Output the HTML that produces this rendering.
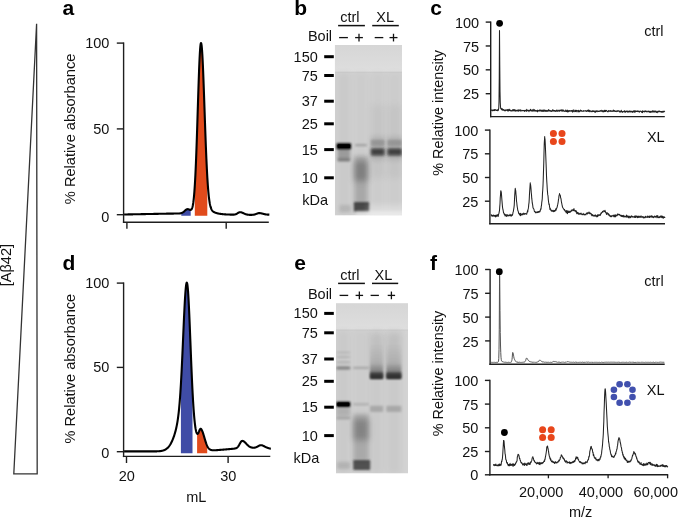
<!DOCTYPE html>
<html><head><meta charset="utf-8"><style>
html,body{margin:0;padding:0;background:#fff;}
body{width:678px;height:518px;overflow:hidden;}
svg{display:block;font-family:"Liberation Sans", sans-serif;will-change:transform;}
</style></head><body>
<svg width="678" height="518" viewBox="0 0 678 518">
<path d="M36.6 23.8 L37.2 473.8 L13.8 473.8 Z" fill="none" stroke="#333" stroke-width="1.3" stroke-linejoin="miter"/>
<text x="0" y="0" font-size="14.6" fill="#111" transform="translate(10.5 265.1) rotate(-90)" text-anchor="middle">[Aβ42]</text>
<text x="62.50" y="15.40" font-size="21" text-anchor="start" font-weight="bold" fill="#000" >a</text>
<text x="62.50" y="269.70" font-size="21" text-anchor="start" font-weight="bold" fill="#000" >d</text>
<text x="294.30" y="15.40" font-size="21" text-anchor="start" font-weight="bold" fill="#000" >b</text>
<text x="294.20" y="270.40" font-size="21" text-anchor="start" font-weight="bold" fill="#000" >e</text>
<text x="430.20" y="15.20" font-size="21" text-anchor="start" font-weight="bold" fill="#000" >c</text>
<text x="429.90" y="269.70" font-size="21" text-anchor="start" font-weight="bold" fill="#000" >f</text>
<line x1="123.60" y1="42.40" x2="123.60" y2="222.90" stroke="#1e1e1e" stroke-width="1.4" stroke-linecap="butt"/>
<line x1="116.80" y1="43.10" x2="123.60" y2="43.10" stroke="#1e1e1e" stroke-width="1.4" stroke-linecap="butt"/>
<line x1="116.80" y1="128.90" x2="123.60" y2="128.90" stroke="#1e1e1e" stroke-width="1.4" stroke-linecap="butt"/>
<line x1="116.80" y1="214.70" x2="123.60" y2="214.70" stroke="#1e1e1e" stroke-width="1.4" stroke-linecap="butt"/>
<line x1="122.90" y1="222.20" x2="268.80" y2="222.20" stroke="#1e1e1e" stroke-width="1.4" stroke-linecap="butt"/>
<line x1="126.90" y1="222.20" x2="126.90" y2="228.80" stroke="#1e1e1e" stroke-width="1.4" stroke-linecap="butt"/>
<line x1="226.20" y1="222.20" x2="226.20" y2="228.80" stroke="#1e1e1e" stroke-width="1.4" stroke-linecap="butt"/>
<path d="M181.30 215.80 L181.30 213.12 L181.55 213.04 L181.80 212.94 L182.05 212.83 L182.30 212.71 L182.55 212.57 L182.80 212.42 L183.05 212.26 L183.30 212.08 L183.55 211.89 L183.80 211.69 L184.05 211.47 L184.30 211.25 L184.55 211.03 L184.80 210.80 L185.05 210.58 L185.30 210.36 L185.55 210.14 L185.80 209.94 L186.05 209.76 L186.30 209.59 L186.55 209.45 L186.80 209.33 L187.05 209.24 L187.30 209.18 L187.55 209.14 L187.80 209.14 L188.05 209.16 L188.30 209.21 L188.55 209.28 L188.80 209.37 L189.05 209.47 L189.30 209.58 L189.55 209.68 L189.80 209.78 L190.05 209.86 L190.30 209.91 L190.55 209.92 L190.70 209.90 L190.70 215.80 Z" fill="#3f4ca6" stroke="none"/>
<path d="M194.80 215.80 L194.80 185.59 L195.05 181.36 L195.30 176.68 L195.55 171.54 L195.80 165.95 L196.05 159.91 L196.30 153.46 L196.55 146.63 L196.80 139.44 L197.05 131.96 L197.30 124.25 L197.55 116.39 L197.80 108.45 L198.05 100.53 L198.30 92.73 L198.55 85.14 L198.80 77.89 L199.05 71.07 L199.30 64.79 L199.55 59.14 L199.80 54.23 L200.05 50.13 L200.30 46.91 L200.55 44.63 L200.80 43.32 L201.05 43.02 L201.30 43.62 L201.55 45.06 L201.80 47.33 L202.05 50.39 L202.30 54.19 L202.55 58.67 L202.80 63.78 L203.05 69.44 L203.30 75.56 L203.55 82.08 L203.80 88.90 L204.05 95.93 L204.30 103.10 L204.55 110.33 L204.80 117.54 L205.05 124.67 L205.30 131.65 L205.55 138.42 L205.80 144.93 L206.05 151.16 L206.30 157.06 L206.55 162.61 L206.80 167.79 L207.05 172.61 L207.30 177.05 L207.30 177.05 L207.30 215.80 Z" fill="#e14b1c" stroke="none"/>
<path d="M124.10 214.50 L124.35 214.49 L124.60 214.49 L124.85 214.48 L125.10 214.48 L125.35 214.47 L125.60 214.47 L125.85 214.46 L126.10 214.46 L126.35 214.45 L126.60 214.45 L126.85 214.44 L127.10 214.44 L127.35 214.43 L127.60 214.43 L127.85 214.42 L128.10 214.42 L128.35 214.41 L128.60 214.41 L128.85 214.41 L129.10 214.40 L129.35 214.40 L129.60 214.39 L129.85 214.39 L130.10 214.38 L130.35 214.38 L130.60 214.37 L130.85 214.37 L131.10 214.36 L131.35 214.36 L131.60 214.35 L131.85 214.35 L132.10 214.34 L132.35 214.34 L132.60 214.33 L132.85 214.33 L133.10 214.32 L133.35 214.32 L133.60 214.31 L133.85 214.31 L134.10 214.30 L134.35 214.30 L134.60 214.29 L134.85 214.29 L135.10 214.28 L135.35 214.28 L135.60 214.27 L135.85 214.27 L136.10 214.26 L136.35 214.26 L136.60 214.25 L136.85 214.25 L137.10 214.24 L137.35 214.24 L137.60 214.23 L137.85 214.23 L138.10 214.22 L138.35 214.22 L138.60 214.21 L138.85 214.21 L139.10 214.20 L139.35 214.20 L139.60 214.19 L139.85 214.19 L140.10 214.19 L140.35 214.18 L140.60 214.18 L140.85 214.17 L141.10 214.17 L141.35 214.16 L141.60 214.16 L141.85 214.15 L142.10 214.15 L142.35 214.14 L142.60 214.14 L142.85 214.13 L143.10 214.13 L143.35 214.12 L143.60 214.12 L143.85 214.11 L144.10 214.11 L144.35 214.10 L144.60 214.10 L144.85 214.09 L145.10 214.09 L145.35 214.08 L145.60 214.08 L145.85 214.07 L146.10 214.07 L146.35 214.06 L146.60 214.06 L146.85 214.05 L147.10 214.05 L147.35 214.04 L147.60 214.04 L147.85 214.03 L148.10 214.03 L148.35 214.02 L148.60 214.02 L148.85 214.01 L149.10 214.01 L149.35 214.00 L149.60 214.00 L149.85 213.99 L150.10 213.99 L150.35 213.98 L150.60 213.98 L150.85 213.97 L151.10 213.97 L151.35 213.96 L151.60 213.96 L151.85 213.96 L152.10 213.95 L152.35 213.95 L152.60 213.94 L152.85 213.94 L153.10 213.93 L153.35 213.93 L153.60 213.92 L153.85 213.92 L154.10 213.91 L154.35 213.91 L154.60 213.90 L154.85 213.90 L155.10 213.89 L155.35 213.89 L155.60 213.88 L155.85 213.88 L156.10 213.87 L156.35 213.87 L156.60 213.86 L156.85 213.86 L157.10 213.85 L157.35 213.85 L157.60 213.84 L157.85 213.84 L158.10 213.83 L158.35 213.83 L158.60 213.82 L158.85 213.82 L159.10 213.81 L159.35 213.81 L159.60 213.80 L159.85 213.80 L160.10 213.79 L160.35 213.79 L160.60 213.78 L160.85 213.78 L161.10 213.77 L161.35 213.77 L161.60 213.76 L161.85 213.76 L162.10 213.75 L162.35 213.75 L162.60 213.74 L162.85 213.74 L163.10 213.73 L163.35 213.73 L163.60 213.73 L163.85 213.72 L164.10 213.72 L164.35 213.71 L164.60 213.71 L164.85 213.70 L165.10 213.70 L165.35 213.69 L165.60 213.69 L165.85 213.68 L166.10 213.68 L166.35 213.67 L166.60 213.67 L166.85 213.66 L167.10 213.66 L167.35 213.65 L167.60 213.65 L167.85 213.64 L168.10 213.64 L168.35 213.63 L168.60 213.63 L168.85 213.62 L169.10 213.62 L169.35 213.61 L169.60 213.61 L169.85 213.60 L170.10 213.60 L170.35 213.60 L170.60 213.60 L170.85 213.59 L171.10 213.59 L171.35 213.59 L171.60 213.59 L171.85 213.59 L172.10 213.59 L172.35 213.58 L172.60 213.58 L172.85 213.58 L173.10 213.58 L173.35 213.58 L173.60 213.58 L173.85 213.57 L174.10 213.57 L174.35 213.57 L174.60 213.57 L174.85 213.57 L175.10 213.57 L175.35 213.56 L175.60 213.56 L175.85 213.56 L176.10 213.56 L176.35 213.56 L176.60 213.55 L176.85 213.55 L177.10 213.55 L177.35 213.54 L177.60 213.54 L177.85 213.53 L178.10 213.53 L178.35 213.52 L178.60 213.51 L178.85 213.50 L179.10 213.48 L179.35 213.46 L179.60 213.44 L179.85 213.41 L180.10 213.38 L180.35 213.34 L180.60 213.30 L180.85 213.24 L181.10 213.18 L181.35 213.10 L181.60 213.02 L181.85 212.92 L182.10 212.81 L182.35 212.68 L182.60 212.54 L182.85 212.39 L183.10 212.22 L183.35 212.04 L183.60 211.85 L183.85 211.64 L184.10 211.43 L184.35 211.21 L184.60 210.98 L184.85 210.76 L185.10 210.53 L185.35 210.31 L185.60 210.10 L185.85 209.90 L186.10 209.72 L186.35 209.56 L186.60 209.42 L186.85 209.31 L187.10 209.23 L187.35 209.17 L187.60 209.14 L187.85 209.14 L188.10 209.17 L188.35 209.22 L188.60 209.30 L188.85 209.39 L189.10 209.49 L189.35 209.60 L189.60 209.71 L189.85 209.80 L190.10 209.87 L190.35 209.91 L190.60 209.91 L190.85 209.85 L191.10 209.72 L191.35 209.50 L191.60 209.18 L191.85 208.73 L192.10 208.14 L192.35 207.37 L192.60 206.42 L192.85 205.25 L193.10 203.83 L193.35 202.15 L193.60 200.16 L193.85 197.85 L194.10 195.18 L194.35 192.12 L194.60 188.67 L194.85 184.78 L195.10 180.46 L195.35 175.68 L195.60 170.45 L195.85 164.77 L196.10 158.66 L196.35 152.13 L196.60 145.22 L196.85 137.97 L197.10 130.44 L197.35 122.69 L197.60 114.80 L197.85 106.86 L198.10 98.95 L198.35 91.19 L198.60 83.66 L198.85 76.49 L199.10 69.77 L199.35 63.60 L199.60 58.10 L199.85 53.34 L200.10 49.41 L200.35 46.37 L200.60 44.29 L200.85 43.18 L201.10 43.07 L201.35 43.84 L201.60 45.45 L201.85 47.88 L202.10 51.09 L202.35 55.03 L202.60 59.65 L202.85 64.87 L203.10 70.63 L203.35 76.84 L203.60 83.42 L203.85 90.29 L204.10 97.36 L204.35 104.55 L204.60 111.78 L204.85 118.98 L205.10 126.08 L205.35 133.02 L205.60 139.74 L205.85 146.20 L206.10 152.36 L206.35 158.19 L206.60 163.67 L206.85 168.79 L207.10 173.53 L207.35 177.89 L207.60 181.89 L207.85 185.52 L208.10 188.81 L208.35 191.76 L208.60 194.40 L208.85 196.76 L209.10 198.84 L209.35 200.68 L209.60 202.29 L209.85 203.70 L210.10 204.93 L210.35 205.99 L210.60 206.92 L210.85 207.72 L211.10 208.41 L211.35 209.01 L211.60 209.52 L211.85 209.97 L212.10 210.35 L212.35 210.69 L212.60 210.98 L212.85 211.23 L213.10 211.45 L213.35 211.65 L213.60 211.83 L213.85 211.98 L214.10 212.13 L214.35 212.25 L214.60 212.37 L214.85 212.47 L215.10 212.58 L215.35 212.68 L215.60 212.78 L215.85 212.87 L216.10 212.95 L216.35 213.03 L216.60 213.11 L216.85 213.18 L217.10 213.25 L217.35 213.31 L217.60 213.37 L217.85 213.43 L218.10 213.49 L218.35 213.54 L218.60 213.59 L218.85 213.64 L219.10 213.68 L219.35 213.72 L219.60 213.77 L219.85 213.81 L220.10 213.84 L220.35 213.88 L220.60 213.91 L220.85 213.95 L221.10 213.98 L221.35 214.01 L221.60 214.04 L221.85 214.07 L222.10 214.10 L222.35 214.13 L222.60 214.15 L222.85 214.18 L223.10 214.20 L223.35 214.23 L223.60 214.25 L223.85 214.28 L224.10 214.30 L224.35 214.32 L224.60 214.35 L224.85 214.37 L225.10 214.39 L225.35 214.40 L225.60 214.41 L225.85 214.42 L226.10 214.43 L226.35 214.44 L226.60 214.45 L226.85 214.46 L227.10 214.47 L227.35 214.48 L227.60 214.49 L227.85 214.50 L228.10 214.51 L228.35 214.52 L228.60 214.53 L228.85 214.54 L229.10 214.55 L229.35 214.56 L229.60 214.57 L229.85 214.58 L230.10 214.59 L230.35 214.60 L230.60 214.61 L230.85 214.62 L231.10 214.63 L231.35 214.63 L231.60 214.64 L231.85 214.65 L232.10 214.66 L232.35 214.66 L232.60 214.67 L232.85 214.67 L233.10 214.66 L233.35 214.65 L233.60 214.64 L233.85 214.62 L234.10 214.60 L234.35 214.57 L234.60 214.53 L234.85 214.48 L235.10 214.43 L235.35 214.36 L235.60 214.28 L235.85 214.19 L236.10 214.09 L236.35 213.97 L236.60 213.84 L236.85 213.71 L237.10 213.56 L237.35 213.40 L237.60 213.24 L237.85 213.08 L238.10 212.92 L238.35 212.77 L238.60 212.63 L238.85 212.50 L239.10 212.39 L239.35 212.30 L239.60 212.23 L239.85 212.19 L240.10 212.18 L240.35 212.19 L240.60 212.22 L240.85 212.25 L241.10 212.31 L241.35 212.37 L241.60 212.44 L241.85 212.53 L242.10 212.62 L242.35 212.72 L242.60 212.83 L242.85 212.94 L243.10 213.06 L243.35 213.18 L243.60 213.29 L243.85 213.41 L244.10 213.53 L244.35 213.64 L244.60 213.75 L244.85 213.86 L245.10 213.96 L245.35 214.06 L245.60 214.15 L245.85 214.23 L246.10 214.31 L246.35 214.38 L246.60 214.44 L246.85 214.50 L247.10 214.55 L247.35 214.60 L247.60 214.64 L247.85 214.68 L248.10 214.71 L248.35 214.74 L248.60 214.77 L248.85 214.79 L249.10 214.81 L249.35 214.83 L249.60 214.84 L249.85 214.85 L250.10 214.86 L250.35 214.86 L250.60 214.86 L250.85 214.86 L251.10 214.86 L251.35 214.86 L251.60 214.85 L251.85 214.84 L252.10 214.83 L252.35 214.82 L252.60 214.80 L252.85 214.78 L253.10 214.76 L253.35 214.73 L253.60 214.69 L253.85 214.65 L254.10 214.61 L254.35 214.55 L254.60 214.49 L254.85 214.43 L255.10 214.35 L255.35 214.27 L255.60 214.19 L255.85 214.10 L256.10 214.00 L256.35 213.90 L256.60 213.80 L256.85 213.70 L257.10 213.60 L257.35 213.50 L257.60 213.41 L257.85 213.33 L258.10 213.26 L258.35 213.20 L258.60 213.15 L258.85 213.12 L259.10 213.10 L259.35 213.10 L259.60 213.11 L259.85 213.12 L260.10 213.14 L260.35 213.17 L260.60 213.21 L260.85 213.25 L261.10 213.30 L261.35 213.35 L261.60 213.41 L261.85 213.48 L262.10 213.54 L262.35 213.61 L262.60 213.68 L262.85 213.74 L263.10 213.81 L263.35 213.88 L263.60 213.95 L263.85 214.01 L264.10 214.07 L264.35 214.13 L264.60 214.19 L264.85 214.24 L265.10 214.29 L265.35 214.34 L265.60 214.38 L265.85 214.42 L266.10 214.46 L266.35 214.49 L266.60 214.51 L266.85 214.54 L267.10 214.56 L267.35 214.58 L267.60 214.60 L267.85 214.61 L268.10 214.62 L268.35 214.63 L268.60 214.64 L268.85 214.65 L269.10 214.66 L269.35 214.67" fill="none" stroke="#000" stroke-width="2.1" stroke-linejoin="round" />
<line x1="123.60" y1="282.40" x2="123.60" y2="457.10" stroke="#1e1e1e" stroke-width="1.4" stroke-linecap="butt"/>
<line x1="116.80" y1="283.10" x2="123.60" y2="283.10" stroke="#1e1e1e" stroke-width="1.4" stroke-linecap="butt"/>
<line x1="116.80" y1="367.40" x2="123.60" y2="367.40" stroke="#1e1e1e" stroke-width="1.4" stroke-linecap="butt"/>
<line x1="116.80" y1="451.70" x2="123.60" y2="451.70" stroke="#1e1e1e" stroke-width="1.4" stroke-linecap="butt"/>
<line x1="122.90" y1="456.40" x2="270.30" y2="456.40" stroke="#1e1e1e" stroke-width="1.4" stroke-linecap="butt"/>
<line x1="126.50" y1="456.40" x2="126.50" y2="463.00" stroke="#1e1e1e" stroke-width="1.4" stroke-linecap="butt"/>
<line x1="228.10" y1="456.40" x2="228.10" y2="463.00" stroke="#1e1e1e" stroke-width="1.4" stroke-linecap="butt"/>
<path d="M180.90 453.20 L180.90 384.17 L181.15 379.75 L181.40 375.09 L181.65 370.20 L181.90 365.08 L182.15 359.78 L182.40 354.30 L182.65 348.70 L182.90 343.00 L183.15 337.25 L183.40 331.51 L183.65 325.82 L183.90 320.24 L184.15 314.84 L184.40 309.67 L184.65 304.79 L184.90 300.27 L185.15 296.16 L185.40 292.51 L185.65 289.38 L185.90 286.81 L186.15 284.83 L186.40 283.46 L186.65 282.74 L186.90 282.68 L187.15 283.33 L187.40 284.70 L187.65 286.77 L187.90 289.51 L188.15 292.87 L188.40 296.82 L188.65 301.30 L188.90 306.25 L189.15 311.60 L189.40 317.29 L189.65 323.24 L189.90 329.40 L190.15 335.68 L190.40 342.04 L190.65 348.40 L190.90 354.70 L191.15 360.90 L191.40 366.95 L191.65 372.81 L191.90 378.44 L192.15 383.82 L192.40 388.93 L192.50 390.90 L192.50 453.20 Z" fill="#3f4ca6" stroke="none"/>
<path d="M197.10 453.20 L197.10 433.71 L197.35 433.86 L197.60 433.84 L197.85 433.67 L198.10 433.37 L198.35 432.95 L198.60 432.43 L198.85 431.86 L199.10 431.25 L199.35 430.63 L199.60 430.06 L199.85 429.54 L200.10 429.13 L200.35 428.84 L200.60 428.71 L200.85 428.74 L201.10 428.96 L201.35 429.30 L201.60 429.71 L201.85 430.18 L202.10 430.72 L202.35 431.31 L202.60 431.96 L202.85 432.66 L203.10 433.40 L203.35 434.18 L203.60 434.98 L203.85 435.81 L204.10 436.66 L204.35 437.52 L204.60 438.37 L204.85 439.22 L205.10 440.05 L205.35 440.87 L205.60 441.66 L205.85 442.42 L206.10 443.14 L206.35 443.84 L206.60 444.49 L206.85 445.10 L207.10 445.67 L207.20 445.89 L207.20 453.20 Z" fill="#e14b1c" stroke="none"/>
<path d="M124.10 451.40 L124.35 451.40 L124.60 451.40 L124.85 451.40 L125.10 451.40 L125.35 451.40 L125.60 451.40 L125.85 451.40 L126.10 451.40 L126.35 451.40 L126.60 451.40 L126.85 451.40 L127.10 451.40 L127.35 451.40 L127.60 451.40 L127.85 451.40 L128.10 451.40 L128.35 451.40 L128.60 451.40 L128.85 451.40 L129.10 451.40 L129.35 451.40 L129.60 451.40 L129.85 451.40 L130.10 451.40 L130.35 451.40 L130.60 451.40 L130.85 451.40 L131.10 451.40 L131.35 451.40 L131.60 451.40 L131.85 451.40 L132.10 451.40 L132.35 451.40 L132.60 451.40 L132.85 451.40 L133.10 451.40 L133.35 451.40 L133.60 451.40 L133.85 451.40 L134.10 451.40 L134.35 451.40 L134.60 451.40 L134.85 451.40 L135.10 451.40 L135.35 451.40 L135.60 451.40 L135.85 451.40 L136.10 451.40 L136.35 451.40 L136.60 451.40 L136.85 451.40 L137.10 451.40 L137.35 451.40 L137.60 451.40 L137.85 451.40 L138.10 451.40 L138.35 451.40 L138.60 451.40 L138.85 451.40 L139.10 451.40 L139.35 451.40 L139.60 451.40 L139.85 451.40 L140.10 451.40 L140.35 451.40 L140.60 451.40 L140.85 451.40 L141.10 451.40 L141.35 451.40 L141.60 451.40 L141.85 451.40 L142.10 451.40 L142.35 451.40 L142.60 451.40 L142.85 451.40 L143.10 451.40 L143.35 451.40 L143.60 451.40 L143.85 451.40 L144.10 451.40 L144.35 451.40 L144.60 451.40 L144.85 451.40 L145.10 451.40 L145.35 451.40 L145.60 451.40 L145.85 451.40 L146.10 451.40 L146.35 451.40 L146.60 451.40 L146.85 451.40 L147.10 451.40 L147.35 451.40 L147.60 451.40 L147.85 451.40 L148.10 451.40 L148.35 451.40 L148.60 451.40 L148.85 451.40 L149.10 451.40 L149.35 451.40 L149.60 451.40 L149.85 451.40 L150.10 451.40 L150.35 451.40 L150.60 451.40 L150.85 451.40 L151.10 451.40 L151.35 451.39 L151.60 451.39 L151.85 451.39 L152.10 451.39 L152.35 451.39 L152.60 451.39 L152.85 451.39 L153.10 451.39 L153.35 451.39 L153.60 451.38 L153.85 451.38 L154.10 451.38 L154.35 451.38 L154.60 451.37 L154.85 451.37 L155.10 451.37 L155.35 451.36 L155.60 451.36 L155.85 451.35 L156.10 451.35 L156.35 451.34 L156.60 451.33 L156.85 451.33 L157.10 451.32 L157.35 451.31 L157.60 451.30 L157.85 451.29 L158.10 451.28 L158.35 451.26 L158.60 451.25 L158.85 451.23 L159.10 451.21 L159.35 451.19 L159.60 451.17 L159.85 451.15 L160.10 451.12 L160.35 451.09 L160.60 451.05 L160.85 451.02 L161.10 450.97 L161.35 450.93 L161.60 450.88 L161.85 450.83 L162.10 450.78 L162.35 450.72 L162.60 450.66 L162.85 450.59 L163.10 450.51 L163.35 450.44 L163.60 450.35 L163.85 450.26 L164.10 450.16 L164.35 450.06 L164.60 449.95 L164.85 449.83 L165.10 449.70 L165.35 449.57 L165.60 449.42 L165.85 449.27 L166.10 449.11 L166.35 448.93 L166.60 448.75 L166.85 448.55 L167.10 448.35 L167.35 448.12 L167.60 447.89 L167.85 447.65 L168.10 447.39 L168.35 447.11 L168.60 446.82 L168.85 446.52 L169.10 446.20 L169.35 445.86 L169.60 445.51 L169.85 445.14 L170.10 444.75 L170.35 444.34 L170.60 443.92 L170.85 443.48 L171.10 443.01 L171.35 442.53 L171.60 442.03 L171.85 441.51 L172.10 440.96 L172.35 440.40 L172.60 439.81 L172.85 439.20 L173.10 438.57 L173.35 437.91 L173.60 437.23 L173.85 436.53 L174.10 435.79 L174.35 435.03 L174.60 434.24 L174.85 433.41 L175.10 432.55 L175.35 431.65 L175.60 430.70 L175.85 429.71 L176.10 428.66 L176.35 427.56 L176.60 426.38 L176.85 425.13 L177.10 423.79 L177.35 422.36 L177.60 420.82 L177.85 419.16 L178.10 417.37 L178.35 415.43 L178.60 413.34 L178.85 411.06 L179.10 408.60 L179.35 405.94 L179.60 403.05 L179.85 399.94 L180.10 396.59 L180.35 392.99 L180.60 389.13 L180.85 385.02 L181.10 380.66 L181.35 376.04 L181.60 371.19 L181.85 366.12 L182.10 360.85 L182.35 355.41 L182.60 349.83 L182.85 344.14 L183.10 338.40 L183.35 332.65 L183.60 326.95 L183.85 321.35 L184.10 315.91 L184.35 310.68 L184.60 305.74 L184.85 301.15 L185.10 296.95 L185.35 293.20 L185.60 289.97 L185.85 287.28 L186.10 285.17 L186.35 283.69 L186.60 282.84 L186.85 282.64 L187.10 283.14 L187.35 284.37 L187.60 286.30 L187.85 288.91 L188.10 292.15 L188.35 295.99 L188.60 300.36 L188.85 305.22 L189.10 310.50 L189.35 316.12 L189.60 322.03 L189.85 328.15 L190.10 334.42 L190.35 340.77 L190.60 347.13 L190.85 353.45 L191.10 359.67 L191.35 365.75 L191.60 371.65 L191.85 377.34 L192.10 382.77 L192.35 387.93 L192.60 392.81 L192.85 397.40 L193.10 401.67 L193.35 405.65 L193.60 409.32 L193.85 412.70 L194.10 415.79 L194.35 418.59 L194.60 421.13 L194.85 423.41 L195.10 425.44 L195.35 427.23 L195.60 428.78 L195.85 430.12 L196.10 431.24 L196.35 432.15 L196.60 432.86 L196.85 433.38 L197.10 433.71 L197.35 433.86 L197.60 433.84 L197.85 433.67 L198.10 433.37 L198.35 432.95 L198.60 432.43 L198.85 431.86 L199.10 431.25 L199.35 430.63 L199.60 430.06 L199.85 429.54 L200.10 429.13 L200.35 428.84 L200.60 428.71 L200.85 428.74 L201.10 428.96 L201.35 429.30 L201.60 429.71 L201.85 430.18 L202.10 430.72 L202.35 431.31 L202.60 431.96 L202.85 432.66 L203.10 433.40 L203.35 434.18 L203.60 434.98 L203.85 435.81 L204.10 436.66 L204.35 437.52 L204.60 438.37 L204.85 439.22 L205.10 440.05 L205.35 440.87 L205.60 441.66 L205.85 442.42 L206.10 443.14 L206.35 443.84 L206.60 444.49 L206.85 445.10 L207.10 445.67 L207.35 446.20 L207.60 446.69 L207.85 447.13 L208.10 447.54 L208.35 447.90 L208.60 448.23 L208.85 448.52 L209.10 448.78 L209.35 449.02 L209.60 449.22 L209.85 449.39 L210.10 449.55 L210.35 449.68 L210.60 449.79 L210.85 449.89 L211.10 449.97 L211.35 450.03 L211.60 450.09 L211.85 450.14 L212.10 450.17 L212.35 450.20 L212.60 450.23 L212.85 450.25 L213.10 450.26 L213.35 450.27 L213.60 450.28 L213.85 450.28 L214.10 450.28 L214.35 450.28 L214.60 450.28 L214.85 450.28 L215.10 450.27 L215.35 450.26 L215.60 450.24 L215.85 450.22 L216.10 450.20 L216.35 450.18 L216.60 450.16 L216.85 450.14 L217.10 450.12 L217.35 450.10 L217.60 450.08 L217.85 450.06 L218.10 450.04 L218.35 450.02 L218.60 450.00 L218.85 449.98 L219.10 449.96 L219.35 449.94 L219.60 449.92 L219.85 449.90 L220.10 449.88 L220.35 449.86 L220.60 449.84 L220.85 449.82 L221.10 449.80 L221.35 449.78 L221.60 449.76 L221.85 449.74 L222.10 449.72 L222.35 449.70 L222.60 449.68 L222.85 449.66 L223.10 449.64 L223.35 449.62 L223.60 449.60 L223.85 449.58 L224.10 449.56 L224.35 449.53 L224.60 449.51 L224.85 449.49 L225.10 449.47 L225.35 449.45 L225.60 449.43 L225.85 449.41 L226.10 449.39 L226.35 449.37 L226.60 449.35 L226.85 449.32 L227.10 449.30 L227.35 449.28 L227.60 449.26 L227.85 449.24 L228.10 449.21 L228.35 449.19 L228.60 449.17 L228.85 449.15 L229.10 449.12 L229.35 449.10 L229.60 449.08 L229.85 449.06 L230.10 449.04 L230.35 449.01 L230.60 448.99 L230.85 448.97 L231.10 448.95 L231.35 448.92 L231.60 448.90 L231.85 448.88 L232.10 448.86 L232.35 448.83 L232.60 448.81 L232.85 448.78 L233.10 448.76 L233.35 448.73 L233.60 448.70 L233.85 448.67 L234.10 448.64 L234.35 448.60 L234.60 448.56 L234.85 448.52 L235.10 448.46 L235.35 448.41 L235.60 448.35 L235.85 448.27 L236.10 448.18 L236.35 448.07 L236.60 447.93 L236.85 447.78 L237.10 447.59 L237.35 447.38 L237.60 447.13 L237.85 446.86 L238.10 446.55 L238.35 446.21 L238.60 445.83 L238.85 445.43 L239.10 445.01 L239.35 444.56 L239.60 444.11 L239.85 443.65 L240.10 443.20 L240.35 442.76 L240.60 442.35 L240.85 441.97 L241.10 441.64 L241.35 441.36 L241.60 441.15 L241.85 441.00 L242.10 440.92 L242.35 440.91 L242.60 440.93 L242.85 440.98 L243.10 441.06 L243.35 441.17 L243.60 441.30 L243.85 441.45 L244.10 441.63 L244.35 441.82 L244.60 442.04 L244.85 442.26 L245.10 442.51 L245.35 442.76 L245.60 443.02 L245.85 443.29 L246.10 443.56 L246.35 443.83 L246.60 444.10 L246.85 444.36 L247.10 444.62 L247.35 444.88 L247.60 445.12 L247.85 445.36 L248.10 445.58 L248.35 445.80 L248.60 446.00 L248.85 446.19 L249.10 446.36 L249.35 446.53 L249.60 446.68 L249.85 446.82 L250.10 446.94 L250.35 447.06 L250.60 447.17 L250.85 447.27 L251.10 447.35 L251.35 447.43 L251.60 447.49 L251.85 447.55 L252.10 447.60 L252.35 447.64 L252.60 447.67 L252.85 447.69 L253.10 447.71 L253.35 447.72 L253.60 447.72 L253.85 447.71 L254.10 447.69 L254.35 447.67 L254.60 447.64 L254.85 447.60 L255.10 447.55 L255.35 447.49 L255.60 447.42 L255.85 447.34 L256.10 447.25 L256.35 447.14 L256.60 447.03 L256.85 446.92 L257.10 446.79 L257.35 446.65 L257.60 446.52 L257.85 446.37 L258.10 446.23 L258.35 446.09 L258.60 445.95 L258.85 445.81 L259.10 445.68 L259.35 445.57 L259.60 445.47 L259.85 445.38 L260.10 445.31 L260.35 445.26 L260.60 445.23 L260.85 445.22 L261.10 445.22 L261.35 445.24 L261.60 445.26 L261.85 445.29 L262.10 445.35 L262.35 445.43 L262.60 445.52 L262.85 445.62 L263.10 445.73 L263.35 445.84 L263.60 445.95 L263.85 446.07 L264.10 446.20 L264.35 446.32 L264.60 446.45 L264.85 446.58 L265.10 446.71 L265.35 446.83 L265.60 446.96 L265.85 447.08 L266.10 447.20 L266.35 447.32 L266.60 447.43 L266.85 447.54 L267.10 447.65 L267.35 447.75 L267.60 447.85 L267.85 447.94 L268.10 448.03 L268.35 448.11 L268.60 448.19 L268.85 448.26 L269.10 448.33 L269.35 448.40 L269.60 448.46 L269.85 448.52 L270.10 448.58 L270.35 448.63 L270.60 448.67 L270.85 448.69" fill="none" stroke="#000" stroke-width="2.1" stroke-linejoin="round" />
<text x="109.40" y="48.30" font-size="14.5" text-anchor="end" font-weight="normal" fill="#111" >100</text>
<text x="109.40" y="134.00" font-size="14.5" text-anchor="end" font-weight="normal" fill="#111" >50</text>
<text x="109.40" y="221.80" font-size="14.5" text-anchor="end" font-weight="normal" fill="#111" >0</text>
<text x="109.40" y="288.20" font-size="14.5" text-anchor="end" font-weight="normal" fill="#111" >100</text>
<text x="109.40" y="372.30" font-size="14.5" text-anchor="end" font-weight="normal" fill="#111" >50</text>
<text x="109.40" y="457.60" font-size="14.5" text-anchor="end" font-weight="normal" fill="#111" >0</text>
<text x="126.70" y="481.00" font-size="14.5" text-anchor="middle" font-weight="normal" fill="#111" >20</text>
<text x="228.20" y="480.50" font-size="14.5" text-anchor="middle" font-weight="normal" fill="#111" >30</text>
<text x="196.30" y="501.90" font-size="14.5" text-anchor="middle" font-weight="normal" fill="#111" >mL</text>
<text x="0" y="0" font-size="14.65" fill="#111" text-anchor="middle" transform="translate(75.4 128.9) rotate(-90)">% Relative absorbance</text>
<text x="0" y="0" font-size="14.55" fill="#111" text-anchor="middle" transform="translate(75.2 368.6) rotate(-90)">% Relative absorbance</text>
<defs><clipPath id="cpg45"><rect x="334.8" y="45.0" width="67.19999999999999" height="170.6"/></clipPath><filter id="fg45_0_6" x="-60%" y="-60%" width="220%" height="220%"><feGaussianBlur stdDeviation="0.6"/></filter><filter id="fg45_0_9" x="-60%" y="-60%" width="220%" height="220%"><feGaussianBlur stdDeviation="0.9"/></filter><filter id="fg45_1_2" x="-60%" y="-60%" width="220%" height="220%"><feGaussianBlur stdDeviation="1.2"/></filter><filter id="fg45_1_6" x="-60%" y="-60%" width="220%" height="220%"><feGaussianBlur stdDeviation="1.6"/></filter><filter id="fg45_2_2" x="-60%" y="-60%" width="220%" height="220%"><feGaussianBlur stdDeviation="2.2"/></filter><filter id="fg45_3_0" x="-60%" y="-60%" width="220%" height="220%"><feGaussianBlur stdDeviation="3.0"/></filter><filter id="fg45_4_0" x="-60%" y="-60%" width="220%" height="220%"><feGaussianBlur stdDeviation="4.0"/></filter><linearGradient id="ltg45" x1="0" y1="0" x2="0" y2="1"><stop offset="0" stop-color="#d6d6d6"/><stop offset="1" stop-color="#dedede"/></linearGradient><linearGradient id="grg45" x1="0" y1="0" x2="0" y2="1"><stop offset="0" stop-color="#000" stop-opacity="0"/><stop offset="0.55" stop-color="#000" stop-opacity="0.12"/><stop offset="0.8" stop-color="#000" stop-opacity="0.45"/><stop offset="1" stop-color="#000" stop-opacity="1"/></linearGradient></defs>
<g clip-path="url(#cpg45)">
<rect x="334.8" y="45.0" width="67.19999999999999" height="170.6" fill="#d3d3d3"/>
<rect x="334.8" y="45.0" width="67.19999999999999" height="27.0" fill="url(#ltg45)"/>
<rect x="334.8" y="71.6" width="67.19999999999999" height="0.9" fill="#c4c4c4" opacity="0.6"/>
<rect x="336.6" y="72" width="14.5" height="144" rx="1" fill="#000" opacity="0.04" filter="url(#fg45_3_0)"/>
<rect x="354.0" y="72" width="14.0" height="144" rx="1" fill="#000" opacity="0.03" filter="url(#fg45_3_0)"/>
<rect x="370.8" y="72" width="13.899999999999977" height="144" rx="1" fill="#000" opacity="0.03" filter="url(#fg45_3_0)"/>
<rect x="387.3" y="72" width="14.699999999999989" height="144" rx="1" fill="#000" opacity="0.03" filter="url(#fg45_3_0)"/>
<rect x="337.6" y="148" width="12.5" height="12" rx="1" fill="#444" opacity="0.35" filter="url(#fg45_1_6)"/>
<rect x="337.6" y="158.3" width="12.5" height="3.299999999999983" rx="1" fill="#444" opacity="0.45" filter="url(#fg45_0_9)"/>
<rect x="336.6" y="143.3" width="14.5" height="6.0" rx="1" fill="#000" opacity="1.0" filter="url(#fg45_0_9)"/>
<rect x="337.6" y="144.2" width="12.5" height="3.8000000000000114" rx="1" fill="#000" opacity="1.0" filter="url(#fg45_0_6)"/>
<rect x="339.6" y="205" width="11.5" height="7" rx="1" fill="#888" opacity="0.3" filter="url(#fg45_1_6)"/>
<rect x="355.0" y="144.0" width="12.0" height="2.1999999999999886" rx="1" fill="#555" opacity="0.35" filter="url(#fg45_0_9)"/>
<rect x="354.3" y="156" width="13.399999999999977" height="48" rx="1" fill="#777" opacity="0.42" filter="url(#fg45_2_2)"/>
<rect x="354.5" y="161" width="13.0" height="20" rx="1" fill="#555" opacity="0.5" filter="url(#fg45_3_0)"/>
<rect x="353.8" y="202.0" width="15.399999999999977" height="9.5" rx="1" fill="#333" opacity="0.85" filter="url(#fg45_1_2)"/>
<rect x="370.8" y="136" width="13.899999999999977" height="25" rx="1" fill="#777" opacity="0.22" filter="url(#fg45_2_2)"/>
<rect x="370.8" y="148.3" width="13.899999999999977" height="7.399999999999977" rx="1" fill="#2a2a2a" opacity="0.85" filter="url(#fg45_1_6)"/>
<rect x="370.8" y="139.8" width="13.899999999999977" height="6.399999999999977" rx="1" fill="#666" opacity="0.4" filter="url(#fg45_1_2)"/>
<rect x="370.8" y="105" width="13.899999999999977" height="41" rx="1" fill="#888" opacity="0.1" filter="url(#fg45_3_0)"/>
<rect x="370.8" y="155" width="13.899999999999977" height="23" rx="1" fill="#999" opacity="0.15" filter="url(#fg45_3_0)"/>
<rect x="387.3" y="136" width="14.699999999999989" height="25" rx="1" fill="#777" opacity="0.22" filter="url(#fg45_2_2)"/>
<rect x="387.3" y="148.3" width="14.699999999999989" height="7.399999999999977" rx="1" fill="#2a2a2a" opacity="0.85" filter="url(#fg45_1_6)"/>
<rect x="387.3" y="139.8" width="14.699999999999989" height="6.399999999999977" rx="1" fill="#666" opacity="0.4" filter="url(#fg45_1_2)"/>
<rect x="387.3" y="105" width="14.699999999999989" height="41" rx="1" fill="#888" opacity="0.1" filter="url(#fg45_3_0)"/>
<rect x="387.3" y="155" width="14.699999999999989" height="23" rx="1" fill="#999" opacity="0.15" filter="url(#fg45_3_0)"/>
<rect x="368" y="205" width="37" height="17" rx="1" fill="#fff" opacity="0.3" filter="url(#fg45_3_0)"/>
<rect x="356" y="211" width="49" height="11" rx="1" fill="#fff" opacity="0.35" filter="url(#fg45_1_6)"/>
</g>
<text x="317.80" y="61.70" font-size="14.5" text-anchor="end" font-weight="normal" fill="#111" >150</text>
<line x1="324.20" y1="56.70" x2="333.80" y2="56.70" stroke="#000" stroke-width="3.0" stroke-linecap="butt"/>
<text x="317.80" y="80.50" font-size="14.5" text-anchor="end" font-weight="normal" fill="#111" >75</text>
<line x1="324.20" y1="75.50" x2="333.80" y2="75.50" stroke="#000" stroke-width="3.0" stroke-linecap="butt"/>
<text x="317.80" y="106.20" font-size="14.5" text-anchor="end" font-weight="normal" fill="#111" >37</text>
<line x1="324.20" y1="101.20" x2="333.80" y2="101.20" stroke="#000" stroke-width="3.0" stroke-linecap="butt"/>
<text x="317.80" y="128.80" font-size="14.5" text-anchor="end" font-weight="normal" fill="#111" >25</text>
<line x1="324.20" y1="123.80" x2="333.80" y2="123.80" stroke="#000" stroke-width="3.0" stroke-linecap="butt"/>
<text x="317.80" y="154.60" font-size="14.5" text-anchor="end" font-weight="normal" fill="#111" >15</text>
<line x1="324.20" y1="149.60" x2="333.80" y2="149.60" stroke="#000" stroke-width="3.0" stroke-linecap="butt"/>
<text x="317.80" y="182.80" font-size="14.5" text-anchor="end" font-weight="normal" fill="#111" >10</text>
<line x1="324.20" y1="177.80" x2="333.80" y2="177.80" stroke="#000" stroke-width="3.0" stroke-linecap="butt"/>
<text x="349.90" y="21.90" font-size="14.5" text-anchor="middle" font-weight="normal" fill="#111" >ctrl</text>
<text x="385.20" y="21.90" font-size="14.5" text-anchor="middle" font-weight="normal" fill="#111" >XL</text>
<line x1="338.10" y1="25.60" x2="364.90" y2="25.60" stroke="#111" stroke-width="1.5" stroke-linecap="butt"/>
<line x1="372.20" y1="25.60" x2="398.80" y2="25.60" stroke="#111" stroke-width="1.5" stroke-linecap="butt"/>
<text x="307.90" y="41.10" font-size="14.5" text-anchor="start" font-weight="normal" fill="#111" >Boil</text>
<line x1="339.10" y1="37.60" x2="347.90" y2="37.60" stroke="#111" stroke-width="1.3" stroke-linecap="butt"/>
<line x1="355.10" y1="37.60" x2="362.90" y2="37.60" stroke="#111" stroke-width="1.3" stroke-linecap="butt"/>
<line x1="359.00" y1="33.75" x2="359.00" y2="41.45" stroke="#111" stroke-width="1.3" stroke-linecap="butt"/>
<line x1="374.70" y1="37.60" x2="383.30" y2="37.60" stroke="#111" stroke-width="1.3" stroke-linecap="butt"/>
<line x1="389.50" y1="37.60" x2="397.50" y2="37.60" stroke="#111" stroke-width="1.3" stroke-linecap="butt"/>
<line x1="393.50" y1="33.75" x2="393.50" y2="41.45" stroke="#111" stroke-width="1.3" stroke-linecap="butt"/>
<text x="302.20" y="205.40" font-size="14.5" text-anchor="start" font-weight="normal" fill="#111" >kDa</text>
<defs><clipPath id="cpg303"><rect x="336.0" y="303.3" width="72.0" height="170.2"/></clipPath><filter id="fg303_0_6" x="-60%" y="-60%" width="220%" height="220%"><feGaussianBlur stdDeviation="0.6"/></filter><filter id="fg303_0_9" x="-60%" y="-60%" width="220%" height="220%"><feGaussianBlur stdDeviation="0.9"/></filter><filter id="fg303_1_2" x="-60%" y="-60%" width="220%" height="220%"><feGaussianBlur stdDeviation="1.2"/></filter><filter id="fg303_1_6" x="-60%" y="-60%" width="220%" height="220%"><feGaussianBlur stdDeviation="1.6"/></filter><filter id="fg303_2_2" x="-60%" y="-60%" width="220%" height="220%"><feGaussianBlur stdDeviation="2.2"/></filter><filter id="fg303_3_0" x="-60%" y="-60%" width="220%" height="220%"><feGaussianBlur stdDeviation="3.0"/></filter><filter id="fg303_4_0" x="-60%" y="-60%" width="220%" height="220%"><feGaussianBlur stdDeviation="4.0"/></filter><linearGradient id="ltg303" x1="0" y1="0" x2="0" y2="1"><stop offset="0" stop-color="#d6d6d6"/><stop offset="1" stop-color="#dedede"/></linearGradient><linearGradient id="grg303" x1="0" y1="0" x2="0" y2="1"><stop offset="0" stop-color="#000" stop-opacity="0"/><stop offset="0.55" stop-color="#000" stop-opacity="0.12"/><stop offset="0.8" stop-color="#000" stop-opacity="0.45"/><stop offset="1" stop-color="#000" stop-opacity="1"/></linearGradient></defs>
<g clip-path="url(#cpg303)">
<rect x="336.0" y="303.3" width="72.0" height="170.2" fill="#d3d3d3"/>
<rect x="336.0" y="303.3" width="72.0" height="26.599999999999966" fill="url(#ltg303)"/>
<rect x="336.0" y="329.5" width="72.0" height="0.9" fill="#c4c4c4" opacity="0.6"/>
<rect x="336.3" y="330" width="14.0" height="144" rx="1" fill="#000" opacity="0.04" filter="url(#fg303_3_0)"/>
<rect x="353.0" y="330" width="16.0" height="144" rx="1" fill="#000" opacity="0.03" filter="url(#fg303_3_0)"/>
<rect x="370.0" y="330" width="13.199999999999989" height="144" rx="1" fill="#000" opacity="0.04" filter="url(#fg303_3_0)"/>
<rect x="386.3" y="330" width="15.099999999999966" height="144" rx="1" fill="#000" opacity="0.04" filter="url(#fg303_3_0)"/>
<rect x="336.3" y="351.6" width="14.0" height="2.0" rx="1" fill="#666" opacity="0.2" filter="url(#fg303_0_9)"/>
<rect x="336.3" y="356.0" width="14.0" height="2.0" rx="1" fill="#666" opacity="0.22" filter="url(#fg303_0_9)"/>
<rect x="336.3" y="361.2" width="14.0" height="2.0" rx="1" fill="#666" opacity="0.25" filter="url(#fg303_0_9)"/>
<rect x="336.3" y="366.5" width="14.0" height="3.0" rx="1" fill="#444" opacity="0.55" filter="url(#fg303_0_9)"/>
<rect x="336.3" y="401.8" width="14.0" height="5.199999999999989" rx="1" fill="#000" opacity="1.0" filter="url(#fg303_0_9)"/>
<rect x="337.3" y="402.6" width="12.0" height="3.599999999999966" rx="1" fill="#000" opacity="1.0" filter="url(#fg303_0_6)"/>
<rect x="336.3" y="407" width="14.0" height="9" rx="1" fill="#666" opacity="0.25" filter="url(#fg303_1_6)"/>
<rect x="336.3" y="416.5" width="14.0" height="3.0" rx="1" fill="#666" opacity="0.35" filter="url(#fg303_0_9)"/>
<rect x="337.3" y="462" width="13.0" height="7" rx="1" fill="#888" opacity="0.35" filter="url(#fg303_1_6)"/>
<rect x="353.0" y="366.8" width="16.0" height="2.1999999999999886" rx="1" fill="#666" opacity="0.35" filter="url(#fg303_0_9)"/>
<rect x="353.0" y="403.0" width="16.0" height="2.5" rx="1" fill="#777" opacity="0.3" filter="url(#fg303_0_9)"/>
<rect x="353.3" y="414" width="15.399999999999977" height="48" rx="1" fill="#777" opacity="0.4" filter="url(#fg303_2_2)"/>
<rect x="353.5" y="419" width="15.0" height="21" rx="1" fill="#555" opacity="0.45" filter="url(#fg303_3_0)"/>
<rect x="353.2" y="460.0" width="17.0" height="10.0" rx="1" fill="#333" opacity="0.8" filter="url(#fg303_1_2)"/>
<rect x="370.0" y="334" width="13.199999999999989" height="38" rx="1" fill="#888" opacity="0.15" filter="url(#fg303_3_0)"/>
<rect x="370.0" y="343" width="13.199999999999989" height="36" rx="1" fill="url(#grg303)" opacity="0.8" filter="url(#fg303_1_2)"/>
<rect x="370.0" y="372.5" width="13.199999999999989" height="6.0" rx="1" fill="#222" opacity="0.6" filter="url(#fg303_1_2)"/>
<rect x="370.0" y="405.7" width="13.199999999999989" height="6.199999999999989" rx="1" fill="#777" opacity="0.4" filter="url(#fg303_1_2)"/>
<rect x="386.3" y="334" width="15.099999999999966" height="38" rx="1" fill="#888" opacity="0.15" filter="url(#fg303_3_0)"/>
<rect x="386.3" y="343" width="15.099999999999966" height="36" rx="1" fill="url(#grg303)" opacity="0.8" filter="url(#fg303_1_2)"/>
<rect x="386.3" y="372.5" width="15.099999999999966" height="6.0" rx="1" fill="#222" opacity="0.6" filter="url(#fg303_1_2)"/>
<rect x="386.3" y="405.7" width="15.099999999999966" height="6.199999999999989" rx="1" fill="#777" opacity="0.4" filter="url(#fg303_1_2)"/>
</g>
<text x="317.80" y="318.40" font-size="14.5" text-anchor="end" font-weight="normal" fill="#111" >150</text>
<line x1="324.20" y1="313.40" x2="333.80" y2="313.40" stroke="#000" stroke-width="3.0" stroke-linecap="butt"/>
<text x="317.80" y="337.80" font-size="14.5" text-anchor="end" font-weight="normal" fill="#111" >75</text>
<line x1="324.20" y1="332.80" x2="333.80" y2="332.80" stroke="#000" stroke-width="3.0" stroke-linecap="butt"/>
<text x="317.80" y="364.00" font-size="14.5" text-anchor="end" font-weight="normal" fill="#111" >37</text>
<line x1="324.20" y1="359.00" x2="333.80" y2="359.00" stroke="#000" stroke-width="3.0" stroke-linecap="butt"/>
<text x="317.80" y="386.30" font-size="14.5" text-anchor="end" font-weight="normal" fill="#111" >25</text>
<line x1="324.20" y1="381.30" x2="333.80" y2="381.30" stroke="#000" stroke-width="3.0" stroke-linecap="butt"/>
<text x="317.80" y="412.20" font-size="14.5" text-anchor="end" font-weight="normal" fill="#111" >15</text>
<line x1="324.20" y1="407.20" x2="333.80" y2="407.20" stroke="#000" stroke-width="3.0" stroke-linecap="butt"/>
<text x="317.80" y="440.60" font-size="14.5" text-anchor="end" font-weight="normal" fill="#111" >10</text>
<line x1="324.20" y1="435.60" x2="333.80" y2="435.60" stroke="#000" stroke-width="3.0" stroke-linecap="butt"/>
<text x="349.90" y="279.70" font-size="14.5" text-anchor="middle" font-weight="normal" fill="#111" >ctrl</text>
<text x="383.40" y="279.70" font-size="14.5" text-anchor="middle" font-weight="normal" fill="#111" >XL</text>
<line x1="338.10" y1="283.40" x2="364.90" y2="283.40" stroke="#111" stroke-width="1.5" stroke-linecap="butt"/>
<line x1="372.00" y1="283.40" x2="398.20" y2="283.40" stroke="#111" stroke-width="1.5" stroke-linecap="butt"/>
<text x="307.90" y="298.90" font-size="14.5" text-anchor="start" font-weight="normal" fill="#111" >Boil</text>
<line x1="339.60" y1="295.40" x2="348.20" y2="295.40" stroke="#111" stroke-width="1.3" stroke-linecap="butt"/>
<line x1="355.60" y1="295.40" x2="363.10" y2="295.40" stroke="#111" stroke-width="1.3" stroke-linecap="butt"/>
<line x1="359.35" y1="291.55" x2="359.35" y2="299.25" stroke="#111" stroke-width="1.3" stroke-linecap="butt"/>
<line x1="370.60" y1="295.40" x2="378.90" y2="295.40" stroke="#111" stroke-width="1.3" stroke-linecap="butt"/>
<line x1="387.70" y1="295.40" x2="395.10" y2="295.40" stroke="#111" stroke-width="1.3" stroke-linecap="butt"/>
<line x1="391.40" y1="291.55" x2="391.40" y2="299.25" stroke="#111" stroke-width="1.3" stroke-linecap="butt"/>
<text x="293.50" y="463.10" font-size="14.5" text-anchor="start" font-weight="normal" fill="#111" >kDa</text>
<line x1="490.70" y1="21.50" x2="490.70" y2="117.20" stroke="#1e1e1e" stroke-width="1.4" stroke-linecap="butt"/>
<line x1="485.70" y1="22.10" x2="490.70" y2="22.10" stroke="#1e1e1e" stroke-width="1.4" stroke-linecap="butt"/>
<text x="479.20" y="27.70" font-size="14.5" text-anchor="end" font-weight="normal" fill="#111" >100</text>
<line x1="485.70" y1="45.97" x2="490.70" y2="45.97" stroke="#1e1e1e" stroke-width="1.4" stroke-linecap="butt"/>
<text x="479.20" y="51.57" font-size="14.5" text-anchor="end" font-weight="normal" fill="#111" >75</text>
<line x1="485.70" y1="69.83" x2="490.70" y2="69.83" stroke="#1e1e1e" stroke-width="1.4" stroke-linecap="butt"/>
<text x="479.20" y="75.43" font-size="14.5" text-anchor="end" font-weight="normal" fill="#111" >50</text>
<line x1="485.70" y1="93.70" x2="490.70" y2="93.70" stroke="#1e1e1e" stroke-width="1.4" stroke-linecap="butt"/>
<text x="479.20" y="99.30" font-size="14.5" text-anchor="end" font-weight="normal" fill="#111" >25</text>
<line x1="490.00" y1="116.60" x2="664.80" y2="116.60" stroke="#1e1e1e" stroke-width="1.4" stroke-linecap="butt"/>
<path d="M491.00 110.08 L491.25 110.43 L491.50 110.10 L491.75 110.06 L492.00 109.79 L492.25 110.11 L492.50 110.71 L492.75 110.41 L493.00 110.68 L493.25 110.33 L493.50 110.40 L493.75 110.31 L494.00 109.48 L494.25 110.61 L494.50 110.46 L494.75 110.46 L495.00 109.47 L495.25 109.45 L495.50 109.84 L495.75 110.03 L496.00 110.38 L496.25 110.22 L496.50 110.47 L496.75 109.94 L497.00 110.35 L497.25 110.35 L497.50 109.83 L497.75 110.83 L498.00 110.21 L498.25 110.37 L498.50 109.33 L498.75 108.16 L499.00 101.49 L499.25 78.22 L499.50 30.48 L499.75 64.35 L500.00 91.16 L500.25 102.18 L500.50 106.75 L500.75 108.76 L501.00 108.26 L501.25 109.02 L501.50 109.34 L501.75 108.67 L502.00 109.52 L502.25 110.22 L502.50 108.84 L502.75 109.70 L503.00 109.88 L503.25 109.63 L503.50 110.28 L503.75 110.09 L504.00 109.50 L504.25 110.57 L504.50 110.53 L504.75 110.68 L505.00 110.92 L505.25 110.45 L505.50 110.35 L505.75 109.73 L506.00 110.59 L506.25 110.05 L506.50 110.12 L506.75 109.76 L507.00 109.90 L507.25 110.10 L507.50 110.92 L507.75 109.43 L508.00 109.69 L508.25 110.46 L508.50 111.00 L508.75 110.61 L509.00 109.50 L509.25 109.22 L509.50 110.52 L509.75 110.03 L510.00 109.86 L510.25 110.81 L510.50 110.86 L510.75 110.44 L511.00 110.48 L511.25 110.57 L511.50 111.09 L511.75 110.66 L512.00 110.61 L512.25 110.63 L512.50 109.68 L512.75 110.96 L513.00 110.82 L513.25 110.63 L513.50 109.51 L513.75 110.11 L514.00 110.78 L514.25 109.59 L514.50 110.32 L514.75 110.86 L515.00 109.82 L515.25 111.13 L515.50 110.66 L515.75 110.35 L516.00 110.56 L516.25 110.71 L516.50 110.47 L516.75 110.94 L517.00 110.13 L517.25 110.24 L517.50 110.90 L517.75 110.44 L518.00 110.04 L518.25 110.86 L518.50 111.10 L518.75 110.24 L519.00 109.82 L519.25 110.38 L519.50 110.38 L519.75 110.31 L520.00 111.08 L520.25 109.99 L520.50 111.02 L520.75 109.89 L521.00 110.10 L521.25 110.74 L521.50 110.97 L521.75 110.85 L522.00 110.62 L522.25 110.53 L522.50 110.54 L522.75 110.73 L523.00 110.40 L523.25 110.60 L523.50 110.74 L523.75 110.48 L524.00 110.83 L524.25 110.74 L524.50 111.39 L524.75 110.64 L525.00 110.30 L525.25 110.33 L525.50 110.49 L525.75 110.92 L526.00 110.35 L526.25 110.68 L526.50 111.33 L526.75 109.35 L527.00 110.00 L527.25 110.62 L527.50 110.69 L527.75 110.62 L528.00 110.32 L528.25 110.82 L528.50 110.65 L528.75 110.29 L529.00 111.62 L529.25 110.69 L529.50 110.28 L529.75 110.49 L530.00 110.43 L530.25 110.51 L530.50 109.31 L530.75 110.32 L531.00 111.00 L531.25 110.02 L531.50 110.52 L531.75 110.98 L532.00 110.94 L532.25 111.23 L532.50 109.79 L532.75 110.40 L533.00 110.41 L533.25 110.84 L533.50 111.06 L533.75 109.36 L534.00 111.06 L534.25 109.92 L534.50 110.88 L534.75 109.91 L535.00 110.66 L535.25 111.12 L535.50 110.52 L535.75 110.67 L536.00 110.95 L536.25 110.65 L536.50 110.55 L536.75 111.28 L537.00 111.07 L537.25 110.47 L537.50 111.84 L537.75 110.09 L538.00 111.02 L538.25 110.49 L538.50 110.67 L538.75 110.93 L539.00 110.71 L539.25 110.90 L539.50 109.93 L539.75 109.94 L540.00 110.90 L540.25 110.19 L540.50 110.16 L540.75 109.97 L541.00 111.20 L541.25 110.97 L541.50 111.30 L541.75 110.22 L542.00 110.64 L542.25 110.13 L542.50 110.99 L542.75 111.36 L543.00 110.25 L543.25 111.35 L543.50 111.10 L543.75 110.57 L544.00 109.77 L544.25 111.29 L544.50 110.62 L544.75 110.39 L545.00 110.85 L545.25 110.85 L545.50 111.34 L545.75 110.21 L546.00 111.19 L546.25 111.35 L546.50 111.33 L546.75 110.60 L547.00 110.35 L547.25 111.14 L547.50 110.74 L547.75 110.75 L548.00 111.33 L548.25 110.57 L548.50 109.66 L548.75 110.52 L549.00 109.87 L549.25 111.07 L549.50 110.85 L549.75 110.43 L550.00 110.70 L550.25 111.09 L550.50 110.75 L550.75 111.31 L551.00 110.69 L551.25 111.19 L551.50 111.39 L551.75 111.45 L552.00 110.42 L552.25 111.12 L552.50 109.89 L552.75 110.24 L553.00 109.85 L553.25 111.22 L553.50 110.18 L553.75 110.74 L554.00 110.66 L554.25 110.73 L554.50 110.48 L554.75 110.85 L555.00 111.56 L555.25 110.77 L555.50 110.99 L555.75 111.21 L556.00 110.67 L556.25 110.20 L556.50 110.51 L556.75 111.25 L557.00 110.03 L557.25 110.50 L557.50 111.23 L557.75 111.13 L558.00 110.78 L558.25 111.14 L558.50 110.86 L558.75 110.25 L559.00 110.08 L559.25 110.50 L559.50 111.21 L559.75 110.54 L560.00 110.39 L560.25 110.45 L560.50 110.11 L560.75 110.75 L561.00 110.27 L561.25 110.97 L561.50 109.75 L561.75 110.96 L562.00 110.52 L562.25 109.94 L562.50 111.14 L562.75 110.69 L563.00 109.82 L563.25 110.43 L563.50 110.96 L563.75 110.62 L564.00 111.18 L564.25 111.17 L564.50 111.13 L564.75 110.98 L565.00 111.44 L565.25 111.14 L565.50 111.05 L565.75 109.91 L566.00 111.25 L566.25 111.44 L566.50 110.72 L566.75 110.64 L567.00 111.73 L567.25 110.07 L567.50 111.07 L567.75 111.95 L568.00 110.45 L568.25 111.18 L568.50 111.72 L568.75 110.82 L569.00 111.12 L569.25 111.28 L569.50 110.47 L569.75 110.84 L570.00 111.01 L570.25 111.25 L570.50 110.87 L570.75 110.80 L571.00 110.43 L571.25 110.73 L571.50 111.30 L571.75 110.94 L572.00 110.51 L572.25 110.52 L572.50 112.10 L572.75 111.42 L573.00 111.19 L573.25 109.74 L573.50 111.19 L573.75 111.13 L574.00 111.67 L574.25 111.11 L574.50 110.89 L574.75 111.16 L575.00 110.05 L575.25 111.39 L575.50 111.07 L575.75 110.61 L576.00 111.53 L576.25 111.75 L576.50 110.31 L576.75 110.64 L577.00 111.07 L577.25 111.03 L577.50 110.77 L577.75 110.51 L578.00 111.90 L578.25 111.42 L578.50 110.42 L578.75 110.35 L579.00 111.73 L579.25 111.41 L579.50 111.78 L579.75 111.33 L580.00 110.57 L580.25 111.09 L580.50 110.00 L580.75 110.64 L581.00 110.95 L581.25 111.21 L581.50 110.65 L581.75 110.93 L582.00 111.19 L582.25 111.16 L582.50 111.28 L582.75 111.08 L583.00 110.85 L583.25 111.35 L583.50 111.02 L583.75 110.63 L584.00 110.72 L584.25 111.00 L584.50 110.96 L584.75 111.08 L585.00 111.01 L585.25 111.09 L585.50 110.95 L585.75 110.45 L586.00 111.21 L586.25 111.50 L586.50 111.22 L586.75 110.94 L587.00 111.23 L587.25 110.60 L587.50 110.18 L587.75 111.06 L588.00 110.62 L588.25 111.37 L588.50 110.55 L588.75 109.86 L589.00 110.58 L589.25 111.76 L589.50 110.88 L589.75 110.44 L590.00 110.71 L590.25 111.29 L590.50 111.28 L590.75 111.14 L591.00 111.73 L591.25 111.38 L591.50 111.06 L591.75 111.34 L592.00 111.82 L592.25 111.51 L592.50 111.54 L592.75 110.59 L593.00 111.01 L593.25 111.41 L593.50 110.95 L593.75 111.57 L594.00 111.36 L594.25 111.50 L594.50 111.00 L594.75 112.24 L595.00 111.65 L595.25 111.00 L595.50 111.14 L595.75 112.27 L596.00 110.95 L596.25 111.50 L596.50 111.55 L596.75 111.11 L597.00 110.59 L597.25 111.20 L597.50 111.28 L597.75 111.63 L598.00 111.47 L598.25 111.14 L598.50 111.51 L598.75 111.37 L599.00 111.22 L599.25 111.16 L599.50 111.03 L599.75 111.45 L600.00 110.67 L600.25 110.86 L600.50 111.15 L600.75 110.49 L601.00 110.95 L601.25 110.25 L601.50 110.85 L601.75 111.41 L602.00 111.41 L602.25 111.13 L602.50 111.06 L602.75 110.53 L603.00 111.99 L603.25 111.40 L603.50 111.66 L603.75 110.77 L604.00 111.09 L604.25 110.36 L604.50 111.53 L604.75 111.60 L605.00 110.33 L605.25 111.16 L605.50 111.47 L605.75 110.40 L606.00 110.37 L606.25 110.71 L606.50 110.91 L606.75 110.57 L607.00 111.21 L607.25 111.31 L607.50 111.49 L607.75 111.52 L608.00 111.88 L608.25 111.73 L608.50 110.62 L608.75 110.99 L609.00 110.74 L609.25 110.73 L609.50 111.18 L609.75 111.23 L610.00 111.45 L610.25 110.51 L610.50 110.67 L610.75 111.22 L611.00 111.14 L611.25 111.10 L611.50 111.21 L611.75 110.90 L612.00 111.56 L612.25 111.40 L612.50 111.21 L612.75 110.95 L613.00 111.17 L613.25 110.03 L613.50 110.81 L613.75 111.27 L614.00 110.58 L614.25 111.35 L614.50 111.33 L614.75 110.65 L615.00 111.16 L615.25 111.13 L615.50 111.48 L615.75 111.55 L616.00 111.26 L616.25 110.90 L616.50 111.22 L616.75 111.25 L617.00 111.62 L617.25 111.42 L617.50 110.97 L617.75 110.68 L618.00 111.13 L618.25 110.96 L618.50 110.80 L618.75 111.25 L619.00 111.08 L619.25 111.35 L619.50 111.54 L619.75 111.12 L620.00 112.36 L620.25 111.17 L620.50 111.81 L620.75 111.37 L621.00 111.82 L621.25 110.25 L621.50 110.99 L621.75 111.44 L622.00 111.60 L622.25 112.38 L622.50 111.48 L622.75 111.91 L623.00 111.68 L623.25 111.77 L623.50 111.57 L623.75 111.27 L624.00 111.58 L624.25 110.86 L624.50 111.88 L624.75 110.90 L625.00 111.47 L625.25 112.31 L625.50 111.26 L625.75 111.37 L626.00 111.89 L626.25 111.38 L626.50 111.00 L626.75 111.49 L627.00 111.63 L627.25 111.69 L627.50 111.03 L627.75 112.17 L628.00 112.13 L628.25 111.39 L628.50 111.51 L628.75 111.19 L629.00 112.03 L629.25 111.07 L629.50 111.70 L629.75 111.18 L630.00 111.09 L630.25 111.72 L630.50 112.00 L630.75 111.40 L631.00 111.10 L631.25 111.77 L631.50 111.39 L631.75 111.55 L632.00 112.10 L632.25 111.93 L632.50 111.19 L632.75 112.45 L633.00 111.43 L633.25 111.78 L633.50 111.14 L633.75 111.41 L634.00 110.65 L634.25 112.24 L634.50 112.05 L634.75 110.89 L635.00 110.76 L635.25 110.71 L635.50 111.97 L635.75 111.24 L636.00 111.42 L636.25 111.31 L636.50 111.40 L636.75 110.97 L637.00 111.47 L637.25 110.81 L637.50 111.43 L637.75 111.60 L638.00 111.68 L638.25 111.37 L638.50 111.06 L638.75 111.55 L639.00 111.26 L639.25 112.18 L639.50 111.83 L639.75 111.43 L640.00 111.27 L640.25 111.17 L640.50 111.07 L640.75 111.33 L641.00 111.63 L641.25 111.73 L641.50 111.75 L641.75 112.44 L642.00 111.18 L642.25 111.51 L642.50 112.76 L642.75 110.67 L643.00 111.28 L643.25 111.59 L643.50 111.58 L643.75 111.70 L644.00 111.41 L644.25 111.69 L644.50 111.55 L644.75 111.87 L645.00 110.68 L645.25 111.13 L645.50 111.53 L645.75 111.07 L646.00 111.07 L646.25 111.82 L646.50 111.25 L646.75 111.83 L647.00 111.88 L647.25 111.68 L647.50 111.78 L647.75 111.50 L648.00 110.92 L648.25 111.54 L648.50 111.76 L648.75 111.32 L649.00 111.52 L649.25 111.90 L649.50 111.17 L649.75 111.86 L650.00 112.41 L650.25 111.32 L650.50 111.64 L650.75 111.51 L651.00 112.27 L651.25 111.72 L651.50 111.99 L651.75 111.28 L652.00 111.58 L652.25 111.59 L652.50 110.79 L652.75 112.24 L653.00 112.00 L653.25 110.81 L653.50 111.94 L653.75 111.54 L654.00 111.81 L654.25 111.77 L654.50 110.93 L654.75 111.52 L655.00 112.29 L655.25 111.36 L655.50 111.16 L655.75 111.01 L656.00 111.07 L656.25 111.78 L656.50 112.39 L656.75 111.82 L657.00 111.74 L657.25 112.64 L657.50 111.40 L657.75 111.33 L658.00 111.88 L658.25 111.89 L658.50 111.19 L658.75 111.12 L659.00 111.78 L659.25 111.76 L659.50 111.06 L659.75 111.56 L660.00 111.41 L660.25 111.87 L660.50 111.61 L660.75 111.62 L661.00 111.51 L661.25 112.14 L661.50 112.30 L661.75 111.51 L662.00 112.05 L662.25 111.34 L662.50 111.71 L662.75 112.02 L663.00 112.36 L663.25 111.51 L663.50 111.65 L663.75 111.78 L664.00 111.02 L664.25 111.70 L664.50 111.39 L664.75 111.87" fill="none" stroke="#222" stroke-width="1.05" stroke-linejoin="round" />
<line x1="489.90" y1="129.50" x2="489.90" y2="224.30" stroke="#1e1e1e" stroke-width="1.4" stroke-linecap="butt"/>
<line x1="484.90" y1="130.10" x2="489.90" y2="130.10" stroke="#1e1e1e" stroke-width="1.4" stroke-linecap="butt"/>
<text x="478.40" y="135.70" font-size="14.5" text-anchor="end" font-weight="normal" fill="#111" >100</text>
<line x1="484.90" y1="153.80" x2="489.90" y2="153.80" stroke="#1e1e1e" stroke-width="1.4" stroke-linecap="butt"/>
<text x="478.40" y="159.40" font-size="14.5" text-anchor="end" font-weight="normal" fill="#111" >75</text>
<line x1="484.90" y1="177.50" x2="489.90" y2="177.50" stroke="#1e1e1e" stroke-width="1.4" stroke-linecap="butt"/>
<text x="478.40" y="183.10" font-size="14.5" text-anchor="end" font-weight="normal" fill="#111" >50</text>
<line x1="484.90" y1="201.20" x2="489.90" y2="201.20" stroke="#1e1e1e" stroke-width="1.4" stroke-linecap="butt"/>
<text x="478.40" y="206.80" font-size="14.5" text-anchor="end" font-weight="normal" fill="#111" >25</text>
<line x1="489.20" y1="223.70" x2="665.00" y2="223.70" stroke="#1e1e1e" stroke-width="1.4" stroke-linecap="butt"/>
<path d="M491.00 215.13 L491.25 214.66 L491.50 215.77 L491.75 215.90 L492.00 215.45 L492.25 216.24 L492.50 215.60 L492.75 215.42 L493.00 216.01 L493.25 214.89 L493.50 215.38 L493.75 215.74 L494.00 216.21 L494.25 215.66 L494.50 215.91 L494.75 215.38 L495.00 215.91 L495.25 216.65 L495.50 215.36 L495.75 217.04 L496.00 215.38 L496.25 215.74 L496.50 215.82 L496.75 216.28 L497.00 215.02 L497.25 214.50 L497.50 215.92 L497.75 215.90 L498.00 215.60 L498.25 216.37 L498.50 214.51 L498.75 213.79 L499.00 213.15 L499.25 211.51 L499.50 210.50 L499.75 206.60 L500.00 203.79 L500.25 197.62 L500.50 194.96 L500.75 190.66 L500.90 190.69 L501.00 191.51 L501.25 191.90 L501.50 194.65 L501.75 197.98 L502.00 201.15 L502.25 204.13 L502.50 207.10 L502.75 208.54 L503.00 209.97 L503.25 210.99 L503.50 212.56 L503.75 213.14 L504.00 213.46 L504.25 214.44 L504.50 214.42 L504.75 214.18 L505.00 215.85 L505.25 215.47 L505.50 214.81 L505.75 216.00 L506.00 215.65 L506.25 214.62 L506.50 216.38 L506.75 215.69 L507.00 215.99 L507.25 215.61 L507.50 215.41 L507.75 214.63 L508.00 216.01 L508.25 215.48 L508.50 215.29 L508.75 215.63 L509.00 215.47 L509.25 215.79 L509.50 215.20 L509.75 215.37 L510.00 214.20 L510.25 215.13 L510.50 215.72 L510.75 216.06 L511.00 215.09 L511.25 215.18 L511.50 216.04 L511.75 214.87 L512.00 215.27 L512.25 215.51 L512.50 214.19 L512.75 214.25 L513.00 212.39 L513.25 211.86 L513.50 210.40 L513.75 208.87 L514.00 207.30 L514.25 205.07 L514.50 199.45 L514.75 194.85 L515.00 191.23 L515.25 188.23 L515.30 189.01 L515.50 189.56 L515.75 191.04 L516.00 194.44 L516.25 196.62 L516.50 201.06 L516.75 202.51 L517.00 205.16 L517.25 206.97 L517.50 208.44 L517.75 210.28 L518.00 210.82 L518.25 211.38 L518.50 212.59 L518.75 213.72 L519.00 213.31 L519.25 213.86 L519.50 214.60 L519.75 214.26 L520.00 213.55 L520.25 215.71 L520.50 215.61 L520.75 213.34 L521.00 214.42 L521.25 214.66 L521.50 214.95 L521.75 214.77 L522.00 214.23 L522.25 213.78 L522.50 214.39 L522.75 214.87 L523.00 213.67 L523.25 213.68 L523.50 214.20 L523.75 213.12 L524.00 214.01 L524.25 213.88 L524.50 214.33 L524.75 213.67 L525.00 213.53 L525.25 213.76 L525.50 213.90 L525.75 213.50 L526.00 213.79 L526.25 214.08 L526.50 214.15 L526.75 214.20 L527.00 212.50 L527.25 212.23 L527.50 210.47 L527.75 212.06 L528.00 209.57 L528.25 208.67 L528.50 207.40 L528.75 204.40 L529.00 202.84 L529.25 199.14 L529.50 193.80 L529.75 190.16 L530.00 186.55 L530.25 182.84 L530.30 184.24 L530.50 184.33 L530.75 186.17 L531.00 188.81 L531.25 192.46 L531.50 194.86 L531.75 198.43 L532.00 200.26 L532.25 202.98 L532.50 203.83 L532.75 205.61 L533.00 207.79 L533.25 208.09 L533.50 208.63 L533.75 208.83 L534.00 209.66 L534.25 210.73 L534.50 211.58 L534.75 211.65 L535.00 211.98 L535.25 211.87 L535.50 212.79 L535.75 211.94 L536.00 211.92 L536.25 212.76 L536.50 212.32 L536.75 212.14 L537.00 211.97 L537.25 212.13 L537.50 212.59 L537.75 212.41 L538.00 211.51 L538.25 212.37 L538.50 212.17 L538.75 211.45 L539.00 212.32 L539.25 211.61 L539.50 211.39 L539.75 211.75 L540.00 211.68 L540.25 210.09 L540.50 210.07 L540.75 208.50 L541.00 209.16 L541.25 206.25 L541.50 205.49 L541.75 202.45 L542.00 200.85 L542.25 198.81 L542.50 192.88 L542.75 190.04 L543.00 185.60 L543.25 179.03 L543.50 170.99 L543.75 163.54 L544.00 152.96 L544.25 143.64 L544.50 139.45 L544.70 136.55 L544.75 138.17 L545.00 138.94 L545.25 143.30 L545.50 149.57 L545.75 155.59 L546.00 161.72 L546.25 168.23 L546.50 175.86 L546.75 180.87 L547.00 184.46 L547.25 189.12 L547.50 192.10 L547.75 194.92 L548.00 195.71 L548.25 198.89 L548.50 201.43 L548.75 203.00 L549.00 204.55 L549.25 203.99 L549.50 206.53 L549.75 207.65 L550.00 209.57 L550.25 208.29 L550.50 209.17 L550.75 209.80 L551.00 210.61 L551.25 210.15 L551.50 211.23 L551.75 210.33 L552.00 211.03 L552.25 210.69 L552.50 211.13 L552.75 210.71 L553.00 210.24 L553.25 211.73 L553.50 211.29 L553.75 210.80 L554.00 211.18 L554.25 211.56 L554.50 210.39 L554.75 210.76 L555.00 210.97 L555.25 210.77 L555.50 210.06 L555.75 208.80 L556.00 210.30 L556.25 209.38 L556.50 208.73 L556.75 208.02 L557.00 207.68 L557.25 206.56 L557.50 205.33 L557.75 204.39 L558.00 203.12 L558.25 201.50 L558.50 199.36 L558.75 198.41 L559.00 195.55 L559.25 195.25 L559.50 193.62 L559.60 194.32 L559.75 194.97 L560.00 194.83 L560.25 195.20 L560.50 196.81 L560.75 198.23 L561.00 198.64 L561.25 200.69 L561.50 202.47 L561.75 203.34 L562.00 204.72 L562.25 206.01 L562.50 206.84 L562.75 207.62 L563.00 208.07 L563.25 208.14 L563.50 208.79 L563.75 209.10 L564.00 209.49 L564.25 209.94 L564.50 209.43 L564.75 210.49 L565.00 210.93 L565.25 210.64 L565.50 211.37 L565.75 211.85 L566.00 211.63 L566.25 212.99 L566.50 210.52 L566.75 211.92 L567.00 211.10 L567.25 212.69 L567.50 213.65 L567.75 210.83 L568.00 212.29 L568.25 212.50 L568.50 212.03 L568.75 212.48 L569.00 210.91 L569.25 212.57 L569.50 212.25 L569.75 212.00 L570.00 211.58 L570.25 212.17 L570.50 211.44 L570.75 211.70 L571.00 211.14 L571.25 210.00 L571.50 211.01 L571.75 210.91 L572.00 210.97 L572.25 209.83 L572.50 210.05 L572.75 210.20 L573.00 209.78 L573.25 210.28 L573.50 210.67 L573.75 209.11 L574.00 208.65 L574.25 210.33 L574.50 210.89 L574.75 210.79 L575.00 210.99 L575.25 210.47 L575.50 210.69 L575.75 211.85 L576.00 211.13 L576.25 210.88 L576.50 211.57 L576.75 213.71 L577.00 213.59 L577.25 212.34 L577.50 212.49 L577.75 213.17 L578.00 212.77 L578.25 214.04 L578.50 213.40 L578.75 212.96 L579.00 214.38 L579.25 213.45 L579.50 213.98 L579.75 213.95 L580.00 213.86 L580.25 214.29 L580.50 213.80 L580.75 213.24 L581.00 213.10 L581.25 213.67 L581.50 213.99 L581.75 214.44 L582.00 214.51 L582.25 214.81 L582.50 214.59 L582.75 214.10 L583.00 214.15 L583.25 213.38 L583.50 214.44 L583.75 214.78 L584.00 214.79 L584.25 214.40 L584.50 214.33 L584.75 214.90 L585.00 214.33 L585.25 214.66 L585.50 214.49 L585.75 214.19 L586.00 214.67 L586.25 213.50 L586.50 213.46 L586.75 213.04 L587.00 212.86 L587.25 213.97 L587.50 213.90 L587.75 212.78 L588.00 212.95 L588.25 213.21 L588.50 212.97 L588.75 213.22 L589.00 211.93 L589.25 212.38 L589.50 213.12 L589.75 213.82 L590.00 213.27 L590.25 212.94 L590.50 213.41 L590.75 213.44 L591.00 213.53 L591.25 215.01 L591.50 214.00 L591.75 214.51 L592.00 215.83 L592.25 215.42 L592.50 215.07 L592.75 214.66 L593.00 215.31 L593.25 216.07 L593.50 215.60 L593.75 216.02 L594.00 215.45 L594.25 215.74 L594.50 215.41 L594.75 215.80 L595.00 216.33 L595.25 214.87 L595.50 215.65 L595.75 215.85 L596.00 215.42 L596.25 215.58 L596.50 216.18 L596.75 216.85 L597.00 216.08 L597.25 215.89 L597.50 214.83 L597.75 216.71 L598.00 215.64 L598.25 215.52 L598.50 214.85 L598.75 215.36 L599.00 214.70 L599.25 215.24 L599.50 215.34 L599.75 214.98 L600.00 214.97 L600.25 214.19 L600.50 215.26 L600.75 213.90 L601.00 213.01 L601.25 213.63 L601.50 212.99 L601.75 212.51 L602.00 212.50 L602.25 212.47 L602.50 211.28 L602.75 211.50 L603.00 212.06 L603.25 211.43 L603.50 210.84 L603.75 210.97 L604.00 210.88 L604.25 211.02 L604.50 211.60 L604.75 211.34 L605.00 210.29 L605.25 211.86 L605.50 211.66 L605.75 212.79 L606.00 212.38 L606.25 213.08 L606.50 214.47 L606.75 212.96 L607.00 213.16 L607.25 213.23 L607.50 212.89 L607.75 213.36 L608.00 214.77 L608.25 214.37 L608.50 213.84 L608.75 214.18 L609.00 215.45 L609.25 214.79 L609.50 215.11 L609.75 215.59 L610.00 216.24 L610.25 216.63 L610.50 216.20 L610.75 215.78 L611.00 215.86 L611.25 216.80 L611.50 216.64 L611.75 215.72 L612.00 216.17 L612.25 216.10 L612.50 216.00 L612.75 215.71 L613.00 215.26 L613.25 215.70 L613.50 215.14 L613.75 216.65 L614.00 216.26 L614.25 215.28 L614.50 216.68 L614.75 216.36 L615.00 214.78 L615.25 216.78 L615.50 216.15 L615.75 216.77 L616.00 214.87 L616.25 215.74 L616.50 215.58 L616.75 215.35 L617.00 215.22 L617.25 215.60 L617.50 214.09 L617.75 214.14 L618.00 213.98 L618.25 214.38 L618.50 214.33 L618.75 214.86 L619.00 214.82 L619.25 214.74 L619.50 214.43 L619.75 214.65 L620.00 215.52 L620.25 215.53 L620.50 215.29 L620.75 215.18 L621.00 216.33 L621.25 215.26 L621.50 216.05 L621.75 216.42 L622.00 215.73 L622.25 216.41 L622.50 215.41 L622.75 216.65 L623.00 216.26 L623.25 215.33 L623.50 216.62 L623.75 215.80 L624.00 217.04 L624.25 216.00 L624.50 216.32 L624.75 216.60 L625.00 216.29 L625.25 216.64 L625.50 216.22 L625.75 216.92 L626.00 216.58 L626.25 216.71 L626.50 215.10 L626.75 217.27 L627.00 216.66 L627.25 215.68 L627.50 216.73 L627.75 216.94 L628.00 217.28 L628.25 216.11 L628.50 217.56 L628.75 216.63 L629.00 218.04 L629.25 216.65 L629.50 217.11 L629.75 216.54 L630.00 216.13 L630.25 217.35 L630.50 217.25 L630.75 217.60 L631.00 217.23 L631.25 216.45 L631.50 215.85 L631.75 216.41 L632.00 216.40 L632.25 216.32 L632.50 217.09 L632.75 216.96 L633.00 216.63 L633.25 216.87 L633.50 216.70 L633.75 216.90 L634.00 217.20 L634.25 217.31 L634.50 216.41 L634.75 215.96 L635.00 217.58 L635.25 216.86 L635.50 217.40 L635.75 215.89 L636.00 216.62 L636.25 216.82 L636.50 216.01 L636.75 216.52 L637.00 217.20 L637.25 217.40 L637.50 217.69 L637.75 216.34 L638.00 216.04 L638.25 217.10 L638.50 217.33 L638.75 216.92 L639.00 216.10 L639.25 217.25 L639.50 217.26 L639.75 217.13 L640.00 216.56 L640.25 217.00 L640.50 217.27 L640.75 216.53 L641.00 215.82 L641.25 217.02 L641.50 217.10 L641.75 216.85 L642.00 217.33 L642.25 216.52 L642.50 216.80 L642.75 216.68 L643.00 217.16 L643.25 217.73 L643.50 216.71 L643.75 217.98 L644.00 217.70 L644.25 217.29 L644.50 217.18 L644.75 217.83 L645.00 216.76 L645.25 216.80 L645.50 216.28 L645.75 217.13 L646.00 217.61 L646.25 217.16 L646.50 217.11 L646.75 216.76 L647.00 216.97 L647.25 216.09 L647.50 217.46 L647.75 216.66 L648.00 216.28 L648.25 216.47 L648.50 216.43 L648.75 217.36 L649.00 217.47 L649.25 216.14 L649.50 217.40 L649.75 217.38 L650.00 216.58 L650.25 216.08 L650.50 216.49 L650.75 216.55 L651.00 217.09 L651.25 216.71 L651.50 215.79 L651.75 217.04 L652.00 216.07 L652.25 217.41 L652.50 216.25 L652.75 216.53 L653.00 216.45 L653.25 216.62 L653.50 217.63 L653.75 217.39 L654.00 217.26 L654.25 217.10 L654.50 216.08 L654.75 216.64 L655.00 216.63 L655.25 216.40 L655.50 217.21 L655.75 216.53 L656.00 216.55 L656.25 216.37 L656.50 215.81 L656.75 217.27 L657.00 217.68 L657.25 217.04 L657.50 216.41 L657.75 215.46 L658.00 217.05 L658.25 217.62 L658.50 217.12 L658.75 217.47 L659.00 217.77 L659.25 217.58 L659.50 216.72 L659.75 217.54 L660.00 217.39 L660.25 216.12 L660.50 216.75 L660.75 216.19 L661.00 216.91 L661.25 217.29 L661.50 216.39 L661.75 215.85 L662.00 217.69 L662.25 217.19 L662.50 217.79 L662.75 216.26 L663.00 217.57 L663.25 218.13 L663.50 218.09 L663.75 216.88 L664.00 217.14 L664.25 216.91 L664.50 217.55 L664.75 217.57 L665.00 217.05" fill="none" stroke="#222" stroke-width="1.05" stroke-linejoin="round" />
<line x1="490.10" y1="268.90" x2="490.10" y2="364.90" stroke="#1e1e1e" stroke-width="1.4" stroke-linecap="butt"/>
<line x1="485.10" y1="269.50" x2="490.10" y2="269.50" stroke="#1e1e1e" stroke-width="1.4" stroke-linecap="butt"/>
<text x="478.60" y="275.10" font-size="14.5" text-anchor="end" font-weight="normal" fill="#111" >100</text>
<line x1="485.10" y1="293.30" x2="490.10" y2="293.30" stroke="#1e1e1e" stroke-width="1.4" stroke-linecap="butt"/>
<text x="478.60" y="298.90" font-size="14.5" text-anchor="end" font-weight="normal" fill="#111" >75</text>
<line x1="485.10" y1="317.10" x2="490.10" y2="317.10" stroke="#1e1e1e" stroke-width="1.4" stroke-linecap="butt"/>
<text x="478.60" y="322.70" font-size="14.5" text-anchor="end" font-weight="normal" fill="#111" >50</text>
<line x1="485.10" y1="340.90" x2="490.10" y2="340.90" stroke="#1e1e1e" stroke-width="1.4" stroke-linecap="butt"/>
<text x="478.60" y="346.50" font-size="14.5" text-anchor="end" font-weight="normal" fill="#111" >25</text>
<line x1="489.40" y1="364.30" x2="664.70" y2="364.30" stroke="#1e1e1e" stroke-width="1.4" stroke-linecap="butt"/>
<path d="M491.00 362.14 L491.25 362.39 L491.50 362.24 L491.75 362.38 L492.00 362.33 L492.25 362.49 L492.50 362.44 L492.75 362.25 L493.00 362.34 L493.25 362.51 L493.50 362.24 L493.75 362.35 L494.00 362.44 L494.25 362.45 L494.50 362.36 L494.75 362.14 L495.00 362.15 L495.25 362.33 L495.50 362.35 L495.75 362.61 L496.00 362.20 L496.25 362.44 L496.50 362.39 L496.75 362.10 L497.00 362.20 L497.25 362.31 L497.50 362.21 L497.75 362.23 L498.00 362.26 L498.25 361.99 L498.50 361.54 L498.75 358.58 L499.00 349.71 L499.25 329.28 L499.50 283.88 L499.60 275.10 L499.75 282.16 L500.00 310.45 L500.25 332.61 L500.50 344.99 L500.75 352.51 L501.00 357.27 L501.25 359.36 L501.50 360.68 L501.75 361.04 L502.00 361.26 L502.25 361.73 L502.50 361.54 L502.75 361.95 L503.00 361.90 L503.25 362.07 L503.50 361.84 L503.75 362.15 L504.00 362.23 L504.25 362.09 L504.50 362.12 L504.75 362.47 L505.00 362.22 L505.25 362.17 L505.50 362.16 L505.75 362.31 L506.00 362.30 L506.25 362.29 L506.50 362.49 L506.75 362.25 L507.00 362.35 L507.25 362.47 L507.50 362.17 L507.75 362.42 L508.00 362.52 L508.25 362.14 L508.50 362.17 L508.75 362.17 L509.00 362.08 L509.25 362.35 L509.50 362.08 L509.75 362.36 L510.00 362.47 L510.25 362.10 L510.50 362.25 L510.75 362.03 L511.00 362.27 L511.25 361.88 L511.50 361.49 L511.75 360.75 L512.00 359.56 L512.25 357.19 L512.50 353.89 L512.70 352.43 L512.75 352.53 L513.00 352.85 L513.25 354.04 L513.50 355.11 L513.75 356.60 L514.00 358.03 L514.25 358.73 L514.50 359.29 L514.75 360.04 L515.00 360.36 L515.25 360.66 L515.50 361.10 L515.75 361.55 L516.00 361.72 L516.25 361.84 L516.50 361.87 L516.75 361.95 L517.00 362.31 L517.25 362.23 L517.50 362.12 L517.75 362.01 L518.00 362.11 L518.25 362.58 L518.50 362.15 L518.75 362.29 L519.00 362.32 L519.25 362.28 L519.50 362.27 L519.75 362.13 L520.00 362.17 L520.25 362.50 L520.50 362.21 L520.75 362.40 L521.00 362.10 L521.25 362.27 L521.50 362.33 L521.75 362.42 L522.00 362.17 L522.25 362.37 L522.50 362.35 L522.75 362.21 L523.00 362.35 L523.25 362.18 L523.50 362.18 L523.75 362.25 L524.00 361.88 L524.25 362.12 L524.50 361.89 L524.75 361.66 L525.00 361.54 L525.25 361.37 L525.50 360.78 L525.75 360.33 L526.00 359.14 L526.25 358.23 L526.50 358.19 L526.75 358.13 L527.00 358.42 L527.25 358.55 L527.50 359.16 L527.75 359.52 L528.00 359.97 L528.25 360.26 L528.50 360.72 L528.75 360.76 L529.00 360.94 L529.25 361.06 L529.50 361.53 L529.75 361.44 L530.00 361.53 L530.25 361.65 L530.50 361.80 L530.75 361.79 L531.00 361.97 L531.25 361.99 L531.50 362.05 L531.75 362.04 L532.00 362.20 L532.25 362.16 L532.50 362.25 L532.75 362.28 L533.00 362.31 L533.25 362.01 L533.50 362.22 L533.75 362.19 L534.00 362.38 L534.25 362.10 L534.50 362.21 L534.75 362.26 L535.00 362.26 L535.25 362.42 L535.50 362.24 L535.75 362.41 L536.00 362.11 L536.25 362.06 L536.50 362.40 L536.75 362.28 L537.00 362.25 L537.25 362.15 L537.50 362.12 L537.75 361.83 L538.00 361.97 L538.25 361.64 L538.50 361.62 L538.75 361.24 L539.00 360.63 L539.25 360.33 L539.50 360.32 L539.75 360.08 L540.00 360.10 L540.25 360.28 L540.50 360.36 L540.75 360.53 L541.00 360.80 L541.25 361.00 L541.50 361.34 L541.75 361.33 L542.00 361.68 L542.25 361.79 L542.50 361.88 L542.75 361.88 L543.00 361.84 L543.25 361.91 L543.50 361.93 L543.75 361.91 L544.00 362.04 L544.25 362.01 L544.50 362.32 L544.75 362.22 L545.00 362.13 L545.25 361.98 L545.50 362.22 L545.75 362.19 L546.00 362.12 L546.25 362.13 L546.50 362.00 L546.75 362.35 L547.00 362.28 L547.25 362.60 L547.50 362.29 L547.75 362.28 L548.00 362.47 L548.25 362.31 L548.50 362.32 L548.75 362.25 L549.00 362.23 L549.25 362.48 L549.50 362.42 L549.75 362.50 L550.00 362.25 L550.25 362.29 L550.50 362.18 L550.75 362.39 L551.00 362.08 L551.25 362.29 L551.50 362.33 L551.75 362.32 L552.00 361.98 L552.25 362.16 L552.50 361.85 L552.75 361.72 L553.00 361.49 L553.25 361.61 L553.50 361.54 L553.75 361.23 L554.00 361.23 L554.25 361.33 L554.50 361.74 L554.75 361.65 L555.00 361.55 L555.25 361.49 L555.50 361.70 L555.75 362.00 L556.00 362.14 L556.25 361.94 L556.50 361.93 L556.75 361.99 L557.00 361.86 L557.25 362.22 L557.50 362.01 L557.75 362.29 L558.00 361.98 L558.25 362.05 L558.50 362.26 L558.75 362.14 L559.00 362.34 L559.25 362.26 L559.50 362.13 L559.75 362.35 L560.00 362.38 L560.25 362.05 L560.50 362.51 L560.75 362.35 L561.00 362.38 L561.25 362.07 L561.50 362.21 L561.75 362.26 L562.00 362.43 L562.25 362.12 L562.50 362.19 L562.75 362.06 L563.00 362.27 L563.25 362.34 L563.50 362.10 L563.75 362.23 L564.00 362.36 L564.25 362.48 L564.50 362.36 L564.75 362.24 L565.00 362.12 L565.25 362.13 L565.50 362.14 L565.75 362.20 L566.00 362.14 L566.25 362.30 L566.50 362.06 L566.75 361.80 L567.00 362.01 L567.25 361.85 L567.50 361.71 L567.75 361.62 L568.00 361.51 L568.25 361.65 L568.50 361.93 L568.75 361.78 L569.00 361.77 L569.25 362.00 L569.50 362.05 L569.75 362.14 L570.00 362.17 L570.25 362.29 L570.50 362.05 L570.75 362.28 L571.00 362.07 L571.25 362.28 L571.50 362.24 L571.75 362.26 L572.00 362.36 L572.25 362.25 L572.50 362.39 L572.75 362.37 L573.00 362.29 L573.25 362.21 L573.50 362.19 L573.75 362.22 L574.00 362.27 L574.25 362.29 L574.50 362.65 L574.75 362.37 L575.00 362.39 L575.25 362.19 L575.50 362.21 L575.75 362.26 L576.00 362.32 L576.25 362.18 L576.50 362.49 L576.75 362.23 L577.00 362.43 L577.25 362.02 L577.50 362.30 L577.75 362.33 L578.00 362.32 L578.25 362.37 L578.50 362.33 L578.75 362.32 L579.00 362.07 L579.25 362.21 L579.50 362.02 L579.75 362.38 L580.00 362.34 L580.25 362.28 L580.50 362.20 L580.75 362.23 L581.00 362.52 L581.25 362.51 L581.50 362.29 L581.75 362.45 L582.00 362.11 L582.25 362.07 L582.50 362.24 L582.75 362.20 L583.00 362.23 L583.25 362.32 L583.50 362.66 L583.75 362.22 L584.00 362.31 L584.25 362.33 L584.50 362.30 L584.75 362.41 L585.00 362.51 L585.25 362.15 L585.50 362.32 L585.75 362.27 L586.00 362.34 L586.25 362.12 L586.50 362.09 L586.75 362.02 L587.00 362.36 L587.25 362.32 L587.50 362.31 L587.75 362.02 L588.00 362.26 L588.25 362.21 L588.50 362.13 L588.75 362.19 L589.00 362.38 L589.25 362.37 L589.50 362.30 L589.75 362.36 L590.00 362.23 L590.25 362.31 L590.50 362.30 L590.75 362.37 L591.00 362.29 L591.25 362.28 L591.50 362.28 L591.75 362.22 L592.00 362.57 L592.25 362.36 L592.50 362.35 L592.75 362.57 L593.00 362.47 L593.25 362.11 L593.50 362.38 L593.75 362.40 L594.00 362.53 L594.25 362.46 L594.50 362.39 L594.75 362.16 L595.00 362.20 L595.25 362.33 L595.50 362.36 L595.75 362.18 L596.00 362.25 L596.25 362.25 L596.50 362.31 L596.75 362.34 L597.00 362.27 L597.25 362.15 L597.50 362.45 L597.75 362.49 L598.00 362.29 L598.25 362.42 L598.50 362.35 L598.75 362.38 L599.00 362.36 L599.25 362.21 L599.50 362.37 L599.75 362.42 L600.00 362.19 L600.25 362.54 L600.50 362.55 L600.75 362.52 L601.00 362.54 L601.25 362.39 L601.50 362.26 L601.75 362.23 L602.00 362.20 L602.25 362.31 L602.50 362.30 L602.75 362.38 L603.00 362.06 L603.25 362.58 L603.50 362.57 L603.75 362.30 L604.00 362.38 L604.25 362.36 L604.50 362.33 L604.75 362.27 L605.00 362.29 L605.25 362.20 L605.50 362.32 L605.75 362.30 L606.00 362.34 L606.25 362.20 L606.50 362.30 L606.75 362.31 L607.00 362.37 L607.25 362.17 L607.50 362.35 L607.75 362.42 L608.00 362.37 L608.25 362.26 L608.50 362.24 L608.75 362.27 L609.00 362.39 L609.25 362.49 L609.50 362.28 L609.75 362.22 L610.00 362.35 L610.25 362.32 L610.50 362.19 L610.75 362.21 L611.00 362.29 L611.25 362.38 L611.50 362.16 L611.75 362.18 L612.00 362.36 L612.25 362.15 L612.50 362.31 L612.75 362.34 L613.00 362.29 L613.25 362.18 L613.50 362.29 L613.75 362.26 L614.00 362.34 L614.25 362.20 L614.50 362.43 L614.75 362.10 L615.00 362.28 L615.25 362.30 L615.50 362.42 L615.75 362.23 L616.00 362.37 L616.25 362.23 L616.50 362.39 L616.75 362.51 L617.00 362.25 L617.25 362.35 L617.50 362.19 L617.75 362.42 L618.00 362.45 L618.25 362.30 L618.50 362.16 L618.75 362.35 L619.00 362.44 L619.25 362.43 L619.50 362.40 L619.75 362.08 L620.00 362.22 L620.25 362.47 L620.50 362.15 L620.75 362.44 L621.00 362.53 L621.25 362.39 L621.50 362.43 L621.75 362.26 L622.00 362.15 L622.25 362.29 L622.50 362.28 L622.75 362.29 L623.00 362.38 L623.25 362.28 L623.50 362.32 L623.75 362.35 L624.00 362.30 L624.25 362.52 L624.50 362.35 L624.75 362.31 L625.00 362.28 L625.25 362.22 L625.50 362.46 L625.75 362.32 L626.00 362.17 L626.25 362.23 L626.50 362.28 L626.75 362.25 L627.00 362.43 L627.25 362.16 L627.50 362.36 L627.75 362.32 L628.00 362.16 L628.25 362.31 L628.50 362.29 L628.75 362.36 L629.00 362.25 L629.25 362.34 L629.50 362.10 L629.75 362.17 L630.00 362.39 L630.25 362.42 L630.50 362.30 L630.75 362.23 L631.00 362.43 L631.25 362.05 L631.50 362.20 L631.75 362.38 L632.00 362.38 L632.25 362.18 L632.50 362.07 L632.75 362.47 L633.00 362.32 L633.25 362.19 L633.50 362.31 L633.75 362.41 L634.00 361.99 L634.25 362.43 L634.50 362.39 L634.75 362.05 L635.00 362.39 L635.25 362.09 L635.50 362.44 L635.75 362.35 L636.00 362.57 L636.25 362.23 L636.50 362.30 L636.75 362.43 L637.00 362.22 L637.25 362.22 L637.50 362.26 L637.75 362.29 L638.00 362.17 L638.25 362.36 L638.50 362.37 L638.75 362.31 L639.00 362.50 L639.25 362.26 L639.50 362.46 L639.75 362.23 L640.00 362.39 L640.25 362.07 L640.50 362.32 L640.75 362.28 L641.00 362.24 L641.25 362.23 L641.50 362.26 L641.75 362.21 L642.00 362.04 L642.25 362.23 L642.50 362.23 L642.75 362.24 L643.00 362.17 L643.25 362.28 L643.50 362.39 L643.75 362.27 L644.00 362.24 L644.25 362.46 L644.50 362.42 L644.75 362.41 L645.00 362.44 L645.25 362.26 L645.50 362.28 L645.75 362.43 L646.00 362.23 L646.25 362.29 L646.50 362.35 L646.75 362.34 L647.00 362.27 L647.25 362.42 L647.50 362.28 L647.75 362.39 L648.00 362.43 L648.25 362.38 L648.50 362.39 L648.75 362.16 L649.00 362.14 L649.25 362.23 L649.50 362.36 L649.75 362.48 L650.00 362.15 L650.25 362.34 L650.50 362.20 L650.75 362.21 L651.00 362.27 L651.25 362.38 L651.50 362.33 L651.75 362.44 L652.00 362.18 L652.25 362.41 L652.50 362.41 L652.75 362.31 L653.00 362.36 L653.25 362.23 L653.50 362.17 L653.75 362.25 L654.00 362.22 L654.25 362.65 L654.50 362.24 L654.75 362.50 L655.00 362.32 L655.25 362.34 L655.50 362.39 L655.75 362.21 L656.00 362.41 L656.25 362.35 L656.50 362.12 L656.75 362.37 L657.00 362.37 L657.25 362.35 L657.50 362.49 L657.75 362.25 L658.00 362.36 L658.25 362.39 L658.50 362.19 L658.75 362.44 L659.00 362.13 L659.25 362.14 L659.50 362.36 L659.75 362.17 L660.00 362.29 L660.25 362.10 L660.50 362.31 L660.75 362.16 L661.00 362.34 L661.25 362.12 L661.50 362.35 L661.75 362.27 L662.00 362.31 L662.25 362.29 L662.50 362.32 L662.75 362.14 L663.00 361.99 L663.25 362.30 L663.50 362.19 L663.75 362.25 L664.00 362.35 L664.25 362.06 L664.50 362.21" fill="none" stroke="#4a4a4a" stroke-width="0.95" stroke-linejoin="round" />
<line x1="489.90" y1="379.80" x2="489.90" y2="475.40" stroke="#1e1e1e" stroke-width="1.4" stroke-linecap="butt"/>
<line x1="484.90" y1="380.40" x2="489.90" y2="380.40" stroke="#1e1e1e" stroke-width="1.4" stroke-linecap="butt"/>
<text x="478.40" y="386.00" font-size="14.5" text-anchor="end" font-weight="normal" fill="#111" >100</text>
<line x1="484.90" y1="404.10" x2="489.90" y2="404.10" stroke="#1e1e1e" stroke-width="1.4" stroke-linecap="butt"/>
<text x="478.40" y="409.70" font-size="14.5" text-anchor="end" font-weight="normal" fill="#111" >75</text>
<line x1="484.90" y1="427.80" x2="489.90" y2="427.80" stroke="#1e1e1e" stroke-width="1.4" stroke-linecap="butt"/>
<text x="478.40" y="433.40" font-size="14.5" text-anchor="end" font-weight="normal" fill="#111" >50</text>
<line x1="484.90" y1="451.50" x2="489.90" y2="451.50" stroke="#1e1e1e" stroke-width="1.4" stroke-linecap="butt"/>
<text x="478.40" y="457.10" font-size="14.5" text-anchor="end" font-weight="normal" fill="#111" >25</text>
<line x1="484.90" y1="474.80" x2="489.90" y2="474.80" stroke="#1e1e1e" stroke-width="1.4" stroke-linecap="butt"/>
<text x="478.40" y="480.40" font-size="14.5" text-anchor="end" font-weight="normal" fill="#111" >0</text>
<line x1="489.20" y1="474.80" x2="668.20" y2="474.80" stroke="#1e1e1e" stroke-width="1.4" stroke-linecap="butt"/>
<path d="M493.30 464.85 L493.55 464.58 L493.80 465.41 L494.05 465.13 L494.30 464.72 L494.55 464.62 L494.80 465.69 L495.05 464.81 L495.30 465.56 L495.55 465.47 L495.80 464.07 L496.05 464.55 L496.30 465.20 L496.55 465.40 L496.80 465.66 L497.05 465.67 L497.30 465.81 L497.55 464.96 L497.80 465.06 L498.05 465.65 L498.30 464.93 L498.55 465.81 L498.80 464.22 L499.05 465.56 L499.30 465.06 L499.55 463.97 L499.80 465.72 L500.05 465.29 L500.30 465.05 L500.55 464.27 L500.80 464.43 L501.05 465.29 L501.30 463.39 L501.55 461.09 L501.80 461.68 L502.05 460.19 L502.30 459.18 L502.55 456.80 L502.80 453.34 L503.05 449.08 L503.30 445.41 L503.55 440.41 L503.70 441.79 L503.80 440.41 L504.05 441.39 L504.30 444.98 L504.55 447.89 L504.80 450.00 L505.05 453.80 L505.30 454.50 L505.55 456.83 L505.80 459.49 L506.05 459.83 L506.30 460.18 L506.55 462.10 L506.80 463.05 L507.05 463.07 L507.30 462.48 L507.55 463.74 L507.80 464.49 L508.05 464.93 L508.30 465.74 L508.55 464.60 L508.80 464.54 L509.05 464.86 L509.30 465.64 L509.55 464.37 L509.80 465.73 L510.05 463.30 L510.30 465.43 L510.55 464.54 L510.80 465.22 L511.05 465.35 L511.30 464.22 L511.55 464.87 L511.80 465.06 L512.05 465.26 L512.30 464.34 L512.55 464.30 L512.80 463.73 L513.05 466.39 L513.30 464.73 L513.55 464.69 L513.80 463.90 L514.05 465.31 L514.30 464.36 L514.55 465.45 L514.80 464.98 L515.05 464.32 L515.30 464.52 L515.55 463.14 L515.80 463.27 L516.05 462.70 L516.30 461.78 L516.55 461.94 L516.80 461.07 L517.05 461.00 L517.30 456.83 L517.55 456.91 L517.80 455.23 L518.05 454.34 L518.30 454.42 L518.55 454.65 L518.80 455.11 L519.05 455.81 L519.30 457.53 L519.55 458.59 L519.80 458.30 L520.05 460.12 L520.30 460.17 L520.55 460.87 L520.80 462.14 L521.05 462.49 L521.30 462.87 L521.55 462.58 L521.80 463.24 L522.05 463.03 L522.30 463.99 L522.55 464.32 L522.80 465.08 L523.05 464.88 L523.30 463.70 L523.55 463.96 L523.80 463.71 L524.05 464.47 L524.30 465.49 L524.55 464.73 L524.80 462.99 L525.05 463.55 L525.30 463.52 L525.55 464.59 L525.80 464.27 L526.05 464.43 L526.30 465.31 L526.55 463.73 L526.80 463.70 L527.05 465.37 L527.30 464.38 L527.55 463.69 L527.80 462.92 L528.05 463.19 L528.30 462.61 L528.55 464.07 L528.80 464.00 L529.05 464.50 L529.30 463.72 L529.55 463.26 L529.80 463.08 L530.05 464.46 L530.30 462.02 L530.55 462.90 L530.80 462.46 L531.05 462.39 L531.30 461.24 L531.55 461.07 L531.80 460.38 L532.05 458.82 L532.30 457.74 L532.55 457.33 L532.80 456.77 L533.05 457.48 L533.30 457.92 L533.55 458.89 L533.80 460.27 L534.05 460.93 L534.30 460.47 L534.55 461.59 L534.80 461.80 L535.05 462.40 L535.30 462.23 L535.55 462.60 L535.80 462.35 L536.05 462.33 L536.30 463.46 L536.55 463.84 L536.80 463.55 L537.05 463.49 L537.30 463.44 L537.55 463.06 L537.80 462.29 L538.05 463.77 L538.30 463.50 L538.55 463.05 L538.80 462.81 L539.05 464.14 L539.30 462.29 L539.55 464.41 L539.80 463.73 L540.05 464.75 L540.30 462.88 L540.55 463.28 L540.80 462.97 L541.05 463.34 L541.30 463.10 L541.55 462.74 L541.80 463.79 L542.05 462.62 L542.30 462.72 L542.55 463.26 L542.80 462.48 L543.05 462.37 L543.30 462.63 L543.55 461.93 L543.80 461.06 L544.05 461.34 L544.30 460.78 L544.55 461.36 L544.80 459.00 L545.05 459.44 L545.30 457.42 L545.55 456.48 L545.80 454.99 L546.05 453.50 L546.30 451.74 L546.55 450.11 L546.80 446.85 L547.05 446.91 L547.20 446.51 L547.30 446.44 L547.55 445.95 L547.80 447.84 L548.05 448.48 L548.30 450.20 L548.55 451.34 L548.80 453.36 L549.05 454.97 L549.30 456.15 L549.55 456.35 L549.80 457.93 L550.05 458.93 L550.30 458.12 L550.55 460.11 L550.80 458.91 L551.05 460.46 L551.30 460.88 L551.55 461.75 L551.80 461.33 L552.05 461.13 L552.30 461.17 L552.55 461.09 L552.80 462.46 L553.05 462.00 L553.30 461.82 L553.55 462.66 L553.80 461.95 L554.05 462.20 L554.30 462.23 L554.55 463.52 L554.80 463.43 L555.05 462.47 L555.30 461.62 L555.55 462.73 L555.80 462.59 L556.05 462.74 L556.30 462.84 L556.55 462.26 L556.80 462.95 L557.05 462.83 L557.30 462.36 L557.55 461.88 L557.80 461.70 L558.05 462.24 L558.30 460.98 L558.55 461.33 L558.80 460.72 L559.05 460.05 L559.30 460.91 L559.55 460.12 L559.80 459.66 L560.05 459.56 L560.30 457.41 L560.55 457.46 L560.80 456.84 L561.05 456.42 L561.30 454.72 L561.55 455.55 L561.80 455.31 L562.05 456.24 L562.30 456.51 L562.55 456.67 L562.80 458.22 L563.05 457.55 L563.30 457.89 L563.55 458.50 L563.80 458.65 L564.05 459.64 L564.30 458.91 L564.55 460.32 L564.80 460.91 L565.05 461.51 L565.30 460.93 L565.55 462.18 L565.80 461.14 L566.05 461.61 L566.30 460.72 L566.55 461.53 L566.80 461.63 L567.05 463.09 L567.30 462.63 L567.55 461.75 L567.80 462.79 L568.05 462.82 L568.30 462.46 L568.55 462.65 L568.80 462.50 L569.05 462.40 L569.30 461.70 L569.55 462.71 L569.80 463.53 L570.05 463.63 L570.30 462.63 L570.55 462.35 L570.80 462.65 L571.05 463.28 L571.30 462.93 L571.55 462.35 L571.80 462.85 L572.05 462.45 L572.30 462.80 L572.55 462.16 L572.80 461.43 L573.05 462.19 L573.30 462.46 L573.55 461.19 L573.80 461.58 L574.05 461.93 L574.30 460.92 L574.55 460.44 L574.80 461.61 L575.05 460.44 L575.30 460.03 L575.55 458.31 L575.80 459.27 L576.05 456.87 L576.30 457.21 L576.55 457.80 L576.80 458.19 L577.05 457.04 L577.30 457.47 L577.55 458.33 L577.80 457.50 L578.05 459.44 L578.30 459.83 L578.55 459.67 L578.80 460.63 L579.05 461.12 L579.30 461.16 L579.55 461.56 L579.80 462.38 L580.05 461.43 L580.30 461.99 L580.55 461.76 L580.80 462.82 L581.05 462.12 L581.30 462.76 L581.55 462.67 L581.80 462.74 L582.05 463.79 L582.30 462.82 L582.55 463.77 L582.80 463.49 L583.05 463.83 L583.30 463.01 L583.55 463.67 L583.80 463.60 L584.05 462.81 L584.30 463.32 L584.55 463.07 L584.80 463.09 L585.05 463.82 L585.30 462.57 L585.55 461.92 L585.80 461.76 L586.05 462.35 L586.30 462.04 L586.55 462.19 L586.80 462.23 L587.05 462.60 L587.30 461.39 L587.55 461.06 L587.80 459.89 L588.05 460.11 L588.30 459.94 L588.55 459.21 L588.80 456.44 L589.05 457.06 L589.30 456.24 L589.55 454.39 L589.80 451.49 L590.05 450.56 L590.30 449.57 L590.55 448.24 L590.80 446.75 L591.00 446.48 L591.05 447.56 L591.30 446.40 L591.55 448.44 L591.80 448.30 L592.05 449.32 L592.30 449.36 L592.55 450.84 L592.80 452.64 L593.05 452.41 L593.30 455.40 L593.55 454.25 L593.80 455.11 L594.05 456.51 L594.30 457.34 L594.55 457.98 L594.80 457.77 L595.05 458.24 L595.30 458.55 L595.55 458.64 L595.80 457.74 L596.05 460.00 L596.30 459.78 L596.55 459.89 L596.80 459.57 L597.05 460.19 L597.30 460.12 L597.55 460.14 L597.80 460.85 L598.05 459.22 L598.30 460.33 L598.55 459.51 L598.80 459.86 L599.05 460.77 L599.30 459.10 L599.55 459.43 L599.80 458.84 L600.05 459.32 L600.30 457.69 L600.55 456.63 L600.80 457.07 L601.05 455.55 L601.30 454.33 L601.55 453.64 L601.80 450.74 L602.05 448.97 L602.30 446.90 L602.55 444.33 L602.80 440.65 L603.05 437.82 L603.30 434.03 L603.55 427.00 L603.80 421.68 L604.05 411.76 L604.30 405.73 L604.55 397.27 L604.80 391.97 L605.05 389.11 L605.10 388.84 L605.30 388.93 L605.55 391.47 L605.80 395.90 L606.05 400.31 L606.30 404.61 L606.55 409.90 L606.80 415.11 L607.05 419.79 L607.30 426.01 L607.55 429.32 L607.80 432.47 L608.05 435.14 L608.30 437.48 L608.55 441.18 L608.80 442.98 L609.05 443.89 L609.30 446.74 L609.55 447.11 L609.80 449.54 L610.05 449.91 L610.30 451.37 L610.55 452.91 L610.80 453.77 L611.05 454.87 L611.30 454.46 L611.55 456.40 L611.80 456.72 L612.05 456.30 L612.30 456.84 L612.55 456.32 L612.80 456.80 L613.05 456.17 L613.30 456.97 L613.55 456.95 L613.80 457.46 L614.05 457.03 L614.30 456.70 L614.55 455.70 L614.80 455.41 L615.05 454.91 L615.30 454.74 L615.55 452.93 L615.80 453.83 L616.05 451.73 L616.30 451.44 L616.55 450.70 L616.80 449.16 L617.05 449.00 L617.30 446.39 L617.55 445.64 L617.80 443.66 L618.05 441.02 L618.30 440.07 L618.55 439.47 L618.80 437.89 L619.00 438.01 L619.05 437.65 L619.30 438.30 L619.55 438.64 L619.80 439.74 L620.05 441.34 L620.30 442.80 L620.55 443.42 L620.80 444.87 L621.05 446.66 L621.30 447.38 L621.55 448.26 L621.80 450.73 L622.05 450.69 L622.30 452.79 L622.55 452.63 L622.80 455.08 L623.05 454.19 L623.30 455.98 L623.55 456.99 L623.80 456.16 L624.05 458.11 L624.30 457.28 L624.55 457.21 L624.80 459.08 L625.05 459.47 L625.30 459.33 L625.55 458.34 L625.80 460.08 L626.05 460.23 L626.30 460.45 L626.55 460.74 L626.80 460.08 L627.05 460.96 L627.30 462.46 L627.55 462.43 L627.80 461.42 L628.05 461.27 L628.30 461.93 L628.55 462.31 L628.80 462.08 L629.05 460.93 L629.30 461.60 L629.55 461.46 L629.80 462.06 L630.05 461.73 L630.30 461.13 L630.55 461.27 L630.80 460.04 L631.05 460.80 L631.30 459.24 L631.55 459.22 L631.80 458.94 L632.05 457.22 L632.30 456.60 L632.55 455.18 L632.80 455.45 L633.05 454.50 L633.30 453.59 L633.55 453.43 L633.80 451.47 L634.05 452.45 L634.20 452.50 L634.30 452.33 L634.55 453.13 L634.80 454.03 L635.05 453.25 L635.30 453.56 L635.55 454.43 L635.80 455.56 L636.05 456.60 L636.30 456.53 L636.55 458.33 L636.80 457.85 L637.05 459.56 L637.30 459.92 L637.55 460.48 L637.80 461.94 L638.05 460.98 L638.30 461.43 L638.55 462.15 L638.80 462.70 L639.05 461.73 L639.30 462.93 L639.55 462.60 L639.80 463.62 L640.05 464.26 L640.30 463.70 L640.55 463.79 L640.80 464.13 L641.05 462.47 L641.30 464.75 L641.55 464.76 L641.80 464.64 L642.05 464.41 L642.30 464.29 L642.55 464.68 L642.80 465.54 L643.05 464.82 L643.30 465.69 L643.55 463.45 L643.80 464.68 L644.05 465.10 L644.30 464.93 L644.55 463.96 L644.80 464.51 L645.05 465.57 L645.30 464.06 L645.55 464.17 L645.80 464.04 L646.05 464.26 L646.30 464.85 L646.55 464.71 L646.80 463.07 L647.05 464.93 L647.30 463.60 L647.55 463.43 L647.80 464.56 L648.05 463.39 L648.30 462.57 L648.55 462.78 L648.80 462.62 L649.05 462.37 L649.30 462.72 L649.55 463.41 L649.80 463.14 L650.05 462.22 L650.30 464.73 L650.55 462.69 L650.80 463.49 L651.05 463.62 L651.30 464.22 L651.55 463.78 L651.80 464.41 L652.05 465.53 L652.30 464.53 L652.55 464.00 L652.80 464.94 L653.05 464.41 L653.30 464.77 L653.55 465.19 L653.80 465.36 L654.05 465.08 L654.30 465.81 L654.55 465.27 L654.80 464.69 L655.05 466.01 L655.30 465.35 L655.55 466.30 L655.80 465.27 L656.05 466.02 L656.30 465.91 L656.55 464.22 L656.80 464.94 L657.05 465.19 L657.30 466.67 L657.55 464.80 L657.80 466.43 L658.05 466.56 L658.30 466.23 L658.55 466.35 L658.80 465.69 L659.05 465.98 L659.30 466.13 L659.55 466.25 L659.80 466.43 L660.05 465.91 L660.30 465.63 L660.55 465.71 L660.80 466.28 L661.05 465.09 L661.30 465.33 L661.55 465.82 L661.80 465.74 L662.05 465.91 L662.30 464.53 L662.55 465.87 L662.80 465.92 L663.05 466.52 L663.30 464.93 L663.55 465.90 L663.80 466.35 L664.05 466.36 L664.30 466.77 L664.55 466.69 L664.80 465.48 L665.05 466.45 L665.30 465.89 L665.55 465.62 L665.80 466.97 L666.05 465.73 L666.30 465.60 L666.55 465.86 L666.80 465.60 L667.05 466.67 L667.30 466.31 L667.55 466.90 L667.80 466.34" fill="none" stroke="#222" stroke-width="1.05" stroke-linejoin="round" />
<line x1="548.40" y1="474.80" x2="548.40" y2="478.30" stroke="#1e1e1e" stroke-width="1.3" stroke-linecap="butt"/>
<line x1="608.10" y1="474.80" x2="608.10" y2="478.30" stroke="#1e1e1e" stroke-width="1.3" stroke-linecap="butt"/>
<line x1="667.60" y1="474.80" x2="667.60" y2="478.30" stroke="#1e1e1e" stroke-width="1.3" stroke-linecap="butt"/>
<text x="541.20" y="496.60" font-size="14.5" text-anchor="middle" font-weight="normal" fill="#111" >20,000</text>
<text x="600.90" y="496.60" font-size="14.5" text-anchor="middle" font-weight="normal" fill="#111" >40,000</text>
<text x="655.80" y="496.60" font-size="14.5" text-anchor="middle" font-weight="normal" fill="#111" >60,000</text>
<text x="580.70" y="517.20" font-size="14.5" text-anchor="middle" font-weight="normal" fill="#111" >m/z</text>
<text x="0" y="0" font-size="14.4" fill="#111" text-anchor="middle" transform="translate(442.5 112.9) rotate(-90)">% Relative intensity</text>
<text x="0" y="0" font-size="14.4" fill="#111" text-anchor="middle" transform="translate(442.8 373.5) rotate(-90)">% Relative intensity</text>
<text x="653.80" y="35.80" font-size="14.5" text-anchor="middle" font-weight="normal" fill="#111" >ctrl</text>
<text x="655.80" y="142.30" font-size="14.5" text-anchor="middle" font-weight="normal" fill="#111" >XL</text>
<text x="654.00" y="285.80" font-size="14.5" text-anchor="middle" font-weight="normal" fill="#111" >ctrl</text>
<text x="655.60" y="394.80" font-size="14.5" text-anchor="middle" font-weight="normal" fill="#111" >XL</text>
<circle cx="499.6" cy="23.3" r="3.4" fill="#000"/>
<circle cx="499.3" cy="271.7" r="3.4" fill="#000"/>
<circle cx="504.4" cy="432.5" r="3.4" fill="#000"/>
<circle cx="553.4" cy="133.5" r="3.5" fill="#e8461b"/>
<circle cx="562.0" cy="133.5" r="3.5" fill="#e8461b"/>
<circle cx="553.4" cy="141.6" r="3.5" fill="#e8461b"/>
<circle cx="562.0" cy="141.6" r="3.5" fill="#e8461b"/>
<circle cx="542.6" cy="429.8" r="3.5" fill="#e8461b"/>
<circle cx="551.2" cy="429.8" r="3.5" fill="#e8461b"/>
<circle cx="542.6" cy="437.6" r="3.5" fill="#e8461b"/>
<circle cx="551.2" cy="437.6" r="3.5" fill="#e8461b"/>
<circle cx="619.6" cy="384.2" r="3.3" fill="#4150ae"/>
<circle cx="627.4" cy="384.2" r="3.3" fill="#4150ae"/>
<circle cx="613.9" cy="389.8" r="3.3" fill="#4150ae"/>
<circle cx="632.5" cy="389.8" r="3.3" fill="#4150ae"/>
<circle cx="613.9" cy="397.0" r="3.3" fill="#4150ae"/>
<circle cx="632.5" cy="397.0" r="3.3" fill="#4150ae"/>
<circle cx="619.6" cy="402.8" r="3.3" fill="#4150ae"/>
<circle cx="627.4" cy="402.8" r="3.3" fill="#4150ae"/>
</svg>
</body></html>
